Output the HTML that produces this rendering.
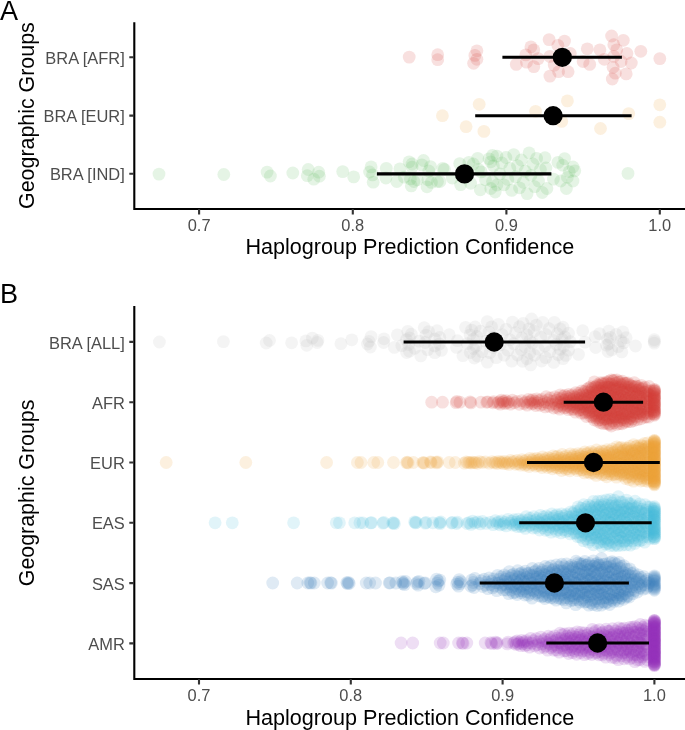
<!DOCTYPE html>
<html><head><meta charset="utf-8">
<style>
html,body{margin:0;padding:0;background:#fff;overflow:hidden;}
svg{display:block;will-change:transform;}
text{font-family:"Liberation Sans",sans-serif;}
.tl{fill:#4d4d4d;font-size:16.45px;}
.tt{fill:#000;font-size:21.6px;}
.pl{fill:#000;font-size:27.1px;}
</style></head>
<body>
<svg width="685" height="730" viewBox="0 0 685 730">
<rect width="685" height="730" fill="#fff"/>
<g fill="#D43F3A" fill-opacity="0.16"><circle cx="409.2" cy="57.1" r="6.4"/><circle cx="437.7" cy="54.7" r="6.4"/><circle cx="437.7" cy="59.7" r="6.4"/><circle cx="476.9" cy="50.8" r="6.4"/><circle cx="474.9" cy="55.4" r="6.4"/><circle cx="476.9" cy="59.3" r="6.4"/><circle cx="473.6" cy="63.3" r="6.4"/><circle cx="516.3" cy="64.4" r="6.4"/><circle cx="525.8" cy="54.9" r="6.4"/><circle cx="526.5" cy="62.2" r="6.4"/><circle cx="530.9" cy="46.9" r="6.4"/><circle cx="533.8" cy="49.8" r="6.4"/><circle cx="533.8" cy="66.6" r="6.4"/><circle cx="538.2" cy="58.6" r="6.4"/><circle cx="549.1" cy="39.6" r="6.4"/><circle cx="564.5" cy="41.1" r="6.4"/><circle cx="557.9" cy="45.4" r="6.4"/><circle cx="549.9" cy="56.4" r="6.4"/><circle cx="570.3" cy="53.5" r="6.4"/><circle cx="554.2" cy="65.1" r="6.4"/><circle cx="558.6" cy="71.7" r="6.4"/><circle cx="568.1" cy="71.7" r="6.4"/><circle cx="549.9" cy="76.1" r="6.4"/><circle cx="587.3" cy="48.8" r="6.4"/><circle cx="599.9" cy="49.8" r="6.4"/><circle cx="583.1" cy="61.5" r="6.4"/><circle cx="589.7" cy="64.4" r="6.4"/><circle cx="604.3" cy="59.3" r="6.4"/><circle cx="611.6" cy="36.0" r="6.4"/><circle cx="623.3" cy="40.3" r="6.4"/><circle cx="613.8" cy="44.7" r="6.4"/><circle cx="616.7" cy="49.8" r="6.4"/><circle cx="613.8" cy="56.4" r="6.4"/><circle cx="626.9" cy="53.5" r="6.4"/><circle cx="631.3" cy="63.0" r="6.4"/><circle cx="621.1" cy="61.5" r="6.4"/><circle cx="613.1" cy="67.3" r="6.4"/><circle cx="615.3" cy="73.2" r="6.4"/><circle cx="626.2" cy="73.9" r="6.4"/><circle cx="612.3" cy="79.0" r="6.4"/><circle cx="640.8" cy="51.3" r="6.4"/><circle cx="659.8" cy="58.6" r="6.4"/></g>
<g fill="#EEA236" fill-opacity="0.16"><circle cx="442.4" cy="115.7" r="6.4"/><circle cx="479.2" cy="104.3" r="6.4"/><circle cx="466.1" cy="126.7" r="6.4"/><circle cx="483.9" cy="131.4" r="6.4"/><circle cx="535.6" cy="111.3" r="6.4"/><circle cx="567.4" cy="100.9" r="6.4"/><circle cx="561.7" cy="121.4" r="6.4"/><circle cx="600.5" cy="128.5" r="6.4"/><circle cx="628.7" cy="113.6" r="6.4"/><circle cx="659.8" cy="104.8" r="6.4"/><circle cx="659.8" cy="122.2" r="6.4"/></g>
<g fill="#5CB85C" fill-opacity="0.16"><circle cx="159.0" cy="174.1" r="6.4"/><circle cx="223.8" cy="174.5" r="6.4"/><circle cx="267.1" cy="172.1" r="6.4"/><circle cx="270.4" cy="176.0" r="6.4"/><circle cx="292.8" cy="173.0" r="6.4"/><circle cx="308.2" cy="169.5" r="6.4"/><circle cx="307.3" cy="175.7" r="6.4"/><circle cx="313.8" cy="179.2" r="6.4"/><circle cx="318.7" cy="172.2" r="6.4"/><circle cx="319.4" cy="176.2" r="6.4"/><circle cx="342.7" cy="171.6" r="6.4"/><circle cx="353.7" cy="176.9" r="6.4"/><circle cx="371.1" cy="166.9" r="6.4"/><circle cx="369.6" cy="172.0" r="6.4"/><circle cx="372.5" cy="174.9" r="6.4"/><circle cx="373.2" cy="182.2" r="6.4"/><circle cx="386.3" cy="168.4" r="6.4"/><circle cx="385.9" cy="178.0" r="6.4"/><circle cx="399.9" cy="168.8" r="6.4"/><circle cx="396.8" cy="181.5" r="6.4"/><circle cx="409.1" cy="161.8" r="6.4"/><circle cx="412.1" cy="164.0" r="6.4"/><circle cx="412.1" cy="167.1" r="6.4"/><circle cx="423.5" cy="160.5" r="6.4"/><circle cx="421.8" cy="164.9" r="6.4"/><circle cx="430.5" cy="166.6" r="6.4"/><circle cx="428.8" cy="171.0" r="6.4"/><circle cx="404.3" cy="177.2" r="6.4"/><circle cx="410.4" cy="178.9" r="6.4"/><circle cx="413.9" cy="181.5" r="6.4"/><circle cx="411.3" cy="185.9" r="6.4"/><circle cx="417.4" cy="179.8" r="6.4"/><circle cx="427.9" cy="179.8" r="6.4"/><circle cx="427.0" cy="186.8" r="6.4"/><circle cx="437.5" cy="181.5" r="6.4"/><circle cx="442.8" cy="168.4" r="6.4"/><circle cx="431.4" cy="182.4" r="6.4"/><circle cx="444.4" cy="169.3" r="6.4"/><circle cx="440.0" cy="181.5" r="6.4"/><circle cx="459.7" cy="163.6" r="6.4"/><circle cx="452.3" cy="178.0" r="6.4"/><circle cx="460.6" cy="184.6" r="6.4"/><circle cx="468.9" cy="162.3" r="6.4"/><circle cx="477.7" cy="158.3" r="6.4"/><circle cx="473.3" cy="164.0" r="6.4"/><circle cx="470.6" cy="183.3" r="6.4"/><circle cx="478.5" cy="169.3" r="6.4"/><circle cx="480.3" cy="189.8" r="6.4"/><circle cx="481.2" cy="171.9" r="6.4"/><circle cx="492.5" cy="155.3" r="6.4"/><circle cx="490.8" cy="161.8" r="6.4"/><circle cx="489.0" cy="158.8" r="6.4"/><circle cx="493.4" cy="165.8" r="6.4"/><circle cx="496.9" cy="156.1" r="6.4"/><circle cx="485.5" cy="179.8" r="6.4"/><circle cx="492.5" cy="181.5" r="6.4"/><circle cx="490.8" cy="188.5" r="6.4"/><circle cx="495.2" cy="192.0" r="6.4"/><circle cx="496.9" cy="185.0" r="6.4"/><circle cx="545.0" cy="157.7" r="6.4"/><circle cx="545.9" cy="168.0" r="6.4"/><circle cx="546.9" cy="188.5" r="6.4"/><circle cx="558.0" cy="162.4" r="6.4"/><circle cx="564.6" cy="158.6" r="6.4"/><circle cx="562.7" cy="165.2" r="6.4"/><circle cx="573.0" cy="167.0" r="6.4"/><circle cx="574.8" cy="170.8" r="6.4"/><circle cx="569.2" cy="171.7" r="6.4"/><circle cx="560.8" cy="181.0" r="6.4"/><circle cx="567.4" cy="177.3" r="6.4"/><circle cx="573.0" cy="181.0" r="6.4"/><circle cx="566.4" cy="188.5" r="6.4"/><circle cx="553.4" cy="179.1" r="6.4"/><circle cx="628.0" cy="173.4" r="6.4"/><circle cx="499.9" cy="173.9" r="6.4"/><circle cx="501.9" cy="163.0" r="6.4"/><circle cx="503.9" cy="184.8" r="6.4"/><circle cx="505.9" cy="157.5" r="6.4"/><circle cx="507.8" cy="179.4" r="6.4"/><circle cx="509.8" cy="168.4" r="6.4"/><circle cx="511.7" cy="190.4" r="6.4"/><circle cx="513.7" cy="154.6" r="6.4"/><circle cx="515.6" cy="176.7" r="6.4"/><circle cx="517.5" cy="165.6" r="6.4"/><circle cx="519.5" cy="187.8" r="6.4"/><circle cx="521.4" cy="160.0" r="6.4"/><circle cx="523.3" cy="182.3" r="6.4"/><circle cx="525.2" cy="171.1" r="6.4"/><circle cx="527.1" cy="193.6" r="6.4"/><circle cx="529.1" cy="152.8" r="6.4"/><circle cx="531.0" cy="175.3" r="6.4"/><circle cx="532.9" cy="164.0" r="6.4"/><circle cx="534.7" cy="186.7" r="6.4"/><circle cx="536.6" cy="158.3" r="6.4"/><circle cx="538.5" cy="181.0" r="6.4"/><circle cx="540.4" cy="169.6" r="6.4"/><circle cx="542.3" cy="192.5" r="6.4"/></g>
<g fill="#B8B8B8" fill-opacity="0.16"><circle cx="159.4" cy="342.0" r="6.4"/><circle cx="223.4" cy="341.6" r="6.4"/><circle cx="266.2" cy="343.0" r="6.4"/><circle cx="269.5" cy="340.5" r="6.4"/><circle cx="291.6" cy="342.8" r="6.4"/><circle cx="305.9" cy="340.9" r="6.4"/><circle cx="306.8" cy="345.3" r="6.4"/><circle cx="312.4" cy="338.1" r="6.4"/><circle cx="317.2" cy="342.5" r="6.4"/><circle cx="317.9" cy="340.4" r="6.4"/><circle cx="340.9" cy="343.7" r="6.4"/><circle cx="351.8" cy="339.8" r="6.4"/><circle cx="367.5" cy="344.0" r="6.4"/><circle cx="369.0" cy="341.3" r="6.4"/><circle cx="370.4" cy="347.0" r="6.4"/><circle cx="371.1" cy="336.6" r="6.4"/><circle cx="383.6" cy="342.5" r="6.4"/><circle cx="384.0" cy="338.8" r="6.4"/><circle cx="394.4" cy="347.4" r="6.4"/><circle cx="397.4" cy="334.9" r="6.4"/><circle cx="401.8" cy="345.6" r="6.4"/><circle cx="406.5" cy="339.6" r="6.4"/><circle cx="406.6" cy="352.5" r="6.4"/><circle cx="407.8" cy="331.3" r="6.4"/><circle cx="408.7" cy="344.5" r="6.4"/><circle cx="409.5" cy="337.8" r="6.4"/><circle cx="409.5" cy="351.3" r="6.4"/><circle cx="411.3" cy="334.2" r="6.4"/><circle cx="414.7" cy="348.3" r="6.4"/><circle cx="419.1" cy="341.1" r="6.4"/><circle cx="420.8" cy="355.9" r="6.4"/><circle cx="424.2" cy="327.7" r="6.4"/><circle cx="425.1" cy="342.5" r="6.4"/><circle cx="426.0" cy="335.1" r="6.4"/><circle cx="427.7" cy="349.7" r="6.4"/><circle cx="428.6" cy="331.6" r="6.4"/><circle cx="434.6" cy="345.9" r="6.4"/><circle cx="434.8" cy="339.0" r="6.4"/><circle cx="434.8" cy="352.7" r="6.4"/><circle cx="437.1" cy="330.7" r="6.4"/><circle cx="439.4" cy="344.0" r="6.4"/><circle cx="439.8" cy="337.5" r="6.4"/><circle cx="441.4" cy="350.4" r="6.4"/><circle cx="449.2" cy="334.7" r="6.4"/><circle cx="456.5" cy="347.4" r="6.4"/><circle cx="457.4" cy="340.7" r="6.4"/><circle cx="462.9" cy="355.7" r="6.4"/><circle cx="465.6" cy="327.4" r="6.4"/><circle cx="467.3" cy="343.6" r="6.4"/><circle cx="470.0" cy="334.8" r="6.4"/><circle cx="470.3" cy="352.5" r="6.4"/><circle cx="471.6" cy="330.1" r="6.4"/><circle cx="473.5" cy="348.5" r="6.4"/><circle cx="473.5" cy="339.1" r="6.4"/><circle cx="474.3" cy="358.0" r="6.4"/><circle cx="475.1" cy="327.0" r="6.4"/><circle cx="475.8" cy="346.2" r="6.4"/><circle cx="476.9" cy="336.5" r="6.4"/><circle cx="477.8" cy="356.2" r="6.4"/><circle cx="480.5" cy="331.2" r="6.4"/><circle cx="482.0" cy="351.6" r="6.4"/><circle cx="485.5" cy="341.4" r="6.4"/><circle cx="487.3" cy="362.1" r="6.4"/><circle cx="487.3" cy="321.6" r="6.4"/><circle cx="489.0" cy="342.3" r="6.4"/><circle cx="489.0" cy="332.0" r="6.4"/><circle cx="489.9" cy="352.7" r="6.4"/><circle cx="491.6" cy="326.8" r="6.4"/><circle cx="493.3" cy="347.5" r="6.4"/><circle cx="493.3" cy="337.2" r="6.4"/><circle cx="496.3" cy="357.7" r="6.4"/><circle cx="498.3" cy="324.4" r="6.4"/><circle cx="500.2" cy="344.9" r="6.4"/><circle cx="502.2" cy="334.6" r="6.4"/><circle cx="504.1" cy="355.2" r="6.4"/><circle cx="506.1" cy="329.3" r="6.4"/><circle cx="507.9" cy="350.2" r="6.4"/><circle cx="509.9" cy="339.7" r="6.4"/><circle cx="511.8" cy="361.2" r="6.4"/><circle cx="512.5" cy="322.1" r="6.4"/><circle cx="513.7" cy="343.7" r="6.4"/><circle cx="515.6" cy="332.7" r="6.4"/><circle cx="517.5" cy="355.0" r="6.4"/><circle cx="519.4" cy="326.7" r="6.4"/><circle cx="521.3" cy="349.6" r="6.4"/><circle cx="521.9" cy="338.0" r="6.4"/><circle cx="522.6" cy="361.3" r="6.4"/><circle cx="523.2" cy="323.4" r="6.4"/><circle cx="525.1" cy="346.8" r="6.4"/><circle cx="526.9" cy="334.9" r="6.4"/><circle cx="527.0" cy="358.8" r="6.4"/><circle cx="528.9" cy="328.9" r="6.4"/><circle cx="529.8" cy="352.9" r="6.4"/><circle cx="529.8" cy="340.9" r="6.4"/><circle cx="530.7" cy="364.9" r="6.4"/><circle cx="531.6" cy="319.0" r="6.4"/><circle cx="532.5" cy="343.1" r="6.4"/><circle cx="534.1" cy="331.1" r="6.4"/><circle cx="534.4" cy="355.2" r="6.4"/><circle cx="536.3" cy="325.1" r="6.4"/><circle cx="538.2" cy="349.1" r="6.4"/><circle cx="540.8" cy="337.2" r="6.4"/><circle cx="541.7" cy="361.0" r="6.4"/><circle cx="542.7" cy="322.4" r="6.4"/><circle cx="544.9" cy="346.0" r="6.4"/><circle cx="545.7" cy="334.3" r="6.4"/><circle cx="545.7" cy="357.7" r="6.4"/><circle cx="549.1" cy="328.7" r="6.4"/><circle cx="549.9" cy="351.6" r="6.4"/><circle cx="553.6" cy="340.3" r="6.4"/><circle cx="553.7" cy="362.4" r="6.4"/><circle cx="554.3" cy="322.4" r="6.4"/><circle cx="556.5" cy="344.4" r="6.4"/><circle cx="557.4" cy="333.7" r="6.4"/><circle cx="558.3" cy="354.8" r="6.4"/><circle cx="560.1" cy="328.9" r="6.4"/><circle cx="560.2" cy="349.3" r="6.4"/><circle cx="562.0" cy="339.2" r="6.4"/><circle cx="563.0" cy="358.6" r="6.4"/><circle cx="563.0" cy="327.2" r="6.4"/><circle cx="563.7" cy="346.5" r="6.4"/><circle cx="564.8" cy="337.0" r="6.4"/><circle cx="565.8" cy="355.4" r="6.4"/><circle cx="568.5" cy="333.2" r="6.4"/><circle cx="568.5" cy="350.2" r="6.4"/><circle cx="570.3" cy="341.7" r="6.4"/><circle cx="578.5" cy="354.4" r="6.4"/><circle cx="582.7" cy="330.7" r="6.4"/><circle cx="585.0" cy="342.1" r="6.4"/><circle cx="595.1" cy="336.7" r="6.4"/><circle cx="595.7" cy="347.5" r="6.4"/><circle cx="599.5" cy="333.6" r="6.4"/><circle cx="606.7" cy="345.2" r="6.4"/><circle cx="607.4" cy="339.0" r="6.4"/><circle cx="608.1" cy="351.5" r="6.4"/><circle cx="608.8" cy="331.1" r="6.4"/><circle cx="608.8" cy="343.7" r="6.4"/><circle cx="610.3" cy="337.4" r="6.4"/><circle cx="611.7" cy="350.0" r="6.4"/><circle cx="616.1" cy="334.4" r="6.4"/><circle cx="618.2" cy="346.6" r="6.4"/><circle cx="621.1" cy="340.7" r="6.4"/><circle cx="621.8" cy="351.9" r="6.4"/><circle cx="622.9" cy="331.8" r="6.4"/><circle cx="623.6" cy="342.8" r="6.4"/><circle cx="626.1" cy="337.7" r="6.4"/><circle cx="635.5" cy="346.0" r="6.4"/><circle cx="654.3" cy="339.6" r="6.4"/><circle cx="654.3" cy="343.1" r="6.4"/><circle cx="654.3" cy="341.4" r="6.4"/></g>
<g fill="#D43F3A" fill-opacity="0.16"><circle cx="431.7" cy="402.2" r="6.4"/><circle cx="442.5" cy="402.2" r="6.4"/><circle cx="456.1" cy="402.7" r="6.4"/><circle cx="456.9" cy="401.4" r="6.4"/><circle cx="460.0" cy="402.2" r="6.4"/><circle cx="470.1" cy="401.9" r="6.4"/><circle cx="470.9" cy="402.9" r="6.4"/><circle cx="481.0" cy="402.2" r="6.4"/><circle cx="486.8" cy="402.3" r="6.4"/><circle cx="487.6" cy="401.8" r="6.4"/><circle cx="492.9" cy="402.8" r="6.4"/><circle cx="493.7" cy="401.6" r="6.4"/><circle cx="497.8" cy="403.0" r="6.4"/><circle cx="499.1" cy="401.9" r="6.4"/><circle cx="500.2" cy="404.1" r="6.4"/><circle cx="501.4" cy="400.1" r="6.4"/><circle cx="502.5" cy="402.3" r="6.4"/><circle cx="503.6" cy="401.2" r="6.4"/><circle cx="504.8" cy="403.5" r="6.4"/><circle cx="505.9" cy="400.6" r="6.4"/><circle cx="507.2" cy="402.9" r="6.4"/><circle cx="508.7" cy="401.8" r="6.4"/><circle cx="510.4" cy="404.2" r="6.4"/><circle cx="512.3" cy="400.2" r="6.4"/><circle cx="514.4" cy="402.8" r="6.4"/><circle cx="516.8" cy="401.3" r="6.4"/><circle cx="519.3" cy="404.3" r="6.4"/><circle cx="521.7" cy="400.7" r="6.4"/><circle cx="523.9" cy="403.5" r="6.4"/><circle cx="525.6" cy="402.0" r="6.4"/><circle cx="527.1" cy="405.2" r="6.4"/><circle cx="528.4" cy="399.3" r="6.4"/><circle cx="529.6" cy="402.3" r="6.4"/><circle cx="530.7" cy="400.7" r="6.4"/><circle cx="531.7" cy="403.9" r="6.4"/><circle cx="532.7" cy="399.6" r="6.4"/><circle cx="533.7" cy="403.2" r="6.4"/><circle cx="534.8" cy="401.4" r="6.4"/><circle cx="535.8" cy="405.5" r="6.4"/><circle cx="536.8" cy="398.8" r="6.4"/><circle cx="537.8" cy="402.9" r="6.4"/><circle cx="538.9" cy="400.6" r="6.4"/><circle cx="540.2" cy="405.3" r="6.4"/><circle cx="541.6" cy="399.4" r="6.4"/><circle cx="542.9" cy="404.3" r="6.4"/><circle cx="544.1" cy="401.7" r="6.4"/><circle cx="545.2" cy="406.9" r="6.4"/><circle cx="546.2" cy="396.7" r="6.4"/><circle cx="547.2" cy="402.8" r="6.4"/><circle cx="548.2" cy="399.8" r="6.4"/><circle cx="549.2" cy="406.3" r="6.4"/><circle cx="550.3" cy="397.9" r="6.4"/><circle cx="551.4" cy="404.3" r="6.4"/><circle cx="552.5" cy="401.2" r="6.4"/><circle cx="553.7" cy="408.0" r="6.4"/><circle cx="554.7" cy="396.9" r="6.4"/><circle cx="555.5" cy="403.8" r="6.4"/><circle cx="556.3" cy="400.2" r="6.4"/><circle cx="557.1" cy="407.4" r="6.4"/><circle cx="557.8" cy="398.1" r="6.4"/><circle cx="558.4" cy="405.5" r="6.4"/><circle cx="559.0" cy="402.0" r="6.4"/><circle cx="559.7" cy="409.1" r="6.4"/><circle cx="560.3" cy="394.9" r="6.4"/><circle cx="560.9" cy="402.3" r="6.4"/><circle cx="561.4" cy="398.7" r="6.4"/><circle cx="562.0" cy="406.1" r="6.4"/><circle cx="562.6" cy="396.4" r="6.4"/><circle cx="563.1" cy="404.4" r="6.4"/><circle cx="563.7" cy="400.5" r="6.4"/><circle cx="564.2" cy="407.9" r="6.4"/><circle cx="564.7" cy="395.3" r="6.4"/><circle cx="565.3" cy="403.2" r="6.4"/><circle cx="565.8" cy="399.4" r="6.4"/><circle cx="566.3" cy="407.3" r="6.4"/><circle cx="566.8" cy="396.9" r="6.4"/><circle cx="567.3" cy="405.5" r="6.4"/><circle cx="567.8" cy="401.3" r="6.4"/><circle cx="568.3" cy="409.6" r="6.4"/><circle cx="568.8" cy="394.4" r="6.4"/><circle cx="569.2" cy="402.9" r="6.4"/><circle cx="569.7" cy="398.6" r="6.4"/><circle cx="570.2" cy="407.2" r="6.4"/><circle cx="570.6" cy="396.1" r="6.4"/><circle cx="571.1" cy="405.1" r="6.4"/><circle cx="571.5" cy="400.6" r="6.4"/><circle cx="572.0" cy="409.4" r="6.4"/><circle cx="572.4" cy="394.8" r="6.4"/><circle cx="572.8" cy="404.1" r="6.4"/><circle cx="573.3" cy="399.2" r="6.4"/><circle cx="573.7" cy="409.2" r="6.4"/><circle cx="574.1" cy="396.9" r="6.4"/><circle cx="574.5" cy="406.8" r="6.4"/><circle cx="575.0" cy="401.7" r="6.4"/><circle cx="575.4" cy="412.2" r="6.4"/><circle cx="575.8" cy="392.6" r="6.4"/><circle cx="576.2" cy="402.7" r="6.4"/><circle cx="576.6" cy="397.9" r="6.4"/><circle cx="577.0" cy="407.9" r="6.4"/><circle cx="577.4" cy="395.5" r="6.4"/><circle cx="577.8" cy="405.0" r="6.4"/><circle cx="578.2" cy="400.1" r="6.4"/><circle cx="578.5" cy="410.4" r="6.4"/><circle cx="578.9" cy="393.1" r="6.4"/><circle cx="579.3" cy="404.3" r="6.4"/><circle cx="579.7" cy="398.7" r="6.4"/><circle cx="580.0" cy="409.6" r="6.4"/><circle cx="580.4" cy="395.4" r="6.4"/><circle cx="580.7" cy="407.3" r="6.4"/><circle cx="581.1" cy="401.3" r="6.4"/><circle cx="581.4" cy="413.2" r="6.4"/><circle cx="581.7" cy="391.0" r="6.4"/><circle cx="582.1" cy="403.6" r="6.4"/><circle cx="582.4" cy="397.6" r="6.4"/><circle cx="582.7" cy="409.9" r="6.4"/><circle cx="583.0" cy="394.0" r="6.4"/><circle cx="583.4" cy="406.6" r="6.4"/><circle cx="583.7" cy="400.3" r="6.4"/><circle cx="584.0" cy="413.1" r="6.4"/><circle cx="584.3" cy="391.5" r="6.4"/><circle cx="584.6" cy="405.4" r="6.4"/><circle cx="584.9" cy="398.6" r="6.4"/><circle cx="585.2" cy="412.0" r="6.4"/><circle cx="585.5" cy="395.1" r="6.4"/><circle cx="585.8" cy="408.3" r="6.4"/><circle cx="586.1" cy="402.0" r="6.4"/><circle cx="586.4" cy="416.5" r="6.4"/><circle cx="586.6" cy="389.5" r="6.4"/><circle cx="586.9" cy="402.3" r="6.4"/><circle cx="587.2" cy="395.6" r="6.4"/><circle cx="587.5" cy="410.0" r="6.4"/><circle cx="587.8" cy="391.6" r="6.4"/><circle cx="588.0" cy="406.2" r="6.4"/><circle cx="588.3" cy="398.5" r="6.4"/><circle cx="588.6" cy="412.9" r="6.4"/><circle cx="588.8" cy="388.0" r="6.4"/><circle cx="589.1" cy="404.4" r="6.4"/><circle cx="589.4" cy="396.5" r="6.4"/><circle cx="589.6" cy="412.0" r="6.4"/><circle cx="589.9" cy="392.5" r="6.4"/><circle cx="590.1" cy="408.0" r="6.4"/><circle cx="590.4" cy="400.2" r="6.4"/><circle cx="590.6" cy="416.3" r="6.4"/><circle cx="590.9" cy="386.7" r="6.4"/><circle cx="591.1" cy="403.3" r="6.4"/><circle cx="591.4" cy="395.0" r="6.4"/><circle cx="591.6" cy="411.5" r="6.4"/><circle cx="591.8" cy="389.5" r="6.4"/><circle cx="592.1" cy="407.9" r="6.4"/><circle cx="592.3" cy="398.8" r="6.4"/><circle cx="592.5" cy="417.1" r="6.4"/><circle cx="592.7" cy="388.0" r="6.4"/><circle cx="593.0" cy="405.8" r="6.4"/><circle cx="593.2" cy="396.7" r="6.4"/><circle cx="593.4" cy="415.3" r="6.4"/><circle cx="593.6" cy="391.9" r="6.4"/><circle cx="593.8" cy="410.6" r="6.4"/><circle cx="594.0" cy="401.2" r="6.4"/><circle cx="594.2" cy="419.9" r="6.4"/><circle cx="594.4" cy="381.8" r="6.4"/><circle cx="594.6" cy="402.9" r="6.4"/><circle cx="594.8" cy="393.5" r="6.4"/><circle cx="595.0" cy="413.2" r="6.4"/><circle cx="595.2" cy="386.9" r="6.4"/><circle cx="595.4" cy="407.6" r="6.4"/><circle cx="595.6" cy="398.0" r="6.4"/><circle cx="595.8" cy="417.7" r="6.4"/><circle cx="596.0" cy="386.7" r="6.4"/><circle cx="596.2" cy="405.7" r="6.4"/><circle cx="596.4" cy="395.3" r="6.4"/><circle cx="596.6" cy="415.9" r="6.4"/><circle cx="596.8" cy="390.6" r="6.4"/><circle cx="597.0" cy="410.9" r="6.4"/><circle cx="597.2" cy="400.5" r="6.4"/><circle cx="597.4" cy="421.0" r="6.4"/><circle cx="597.6" cy="384.6" r="6.4"/><circle cx="597.8" cy="404.2" r="6.4"/><circle cx="597.9" cy="393.3" r="6.4"/><circle cx="598.1" cy="414.5" r="6.4"/><circle cx="598.3" cy="388.4" r="6.4"/><circle cx="598.5" cy="409.6" r="6.4"/><circle cx="598.7" cy="399.1" r="6.4"/><circle cx="598.9" cy="419.7" r="6.4"/><circle cx="599.1" cy="385.3" r="6.4"/><circle cx="599.3" cy="406.9" r="6.4"/><circle cx="599.5" cy="396.4" r="6.4"/><circle cx="599.6" cy="417.7" r="6.4"/><circle cx="599.8" cy="390.4" r="6.4"/><circle cx="600.0" cy="412.8" r="6.4"/><circle cx="600.2" cy="401.7" r="6.4"/><circle cx="600.4" cy="422.6" r="6.4"/><circle cx="600.6" cy="382.6" r="6.4"/><circle cx="600.7" cy="402.7" r="6.4"/><circle cx="600.9" cy="391.4" r="6.4"/><circle cx="601.1" cy="413.5" r="6.4"/><circle cx="601.3" cy="385.9" r="6.4"/><circle cx="601.5" cy="408.4" r="6.4"/><circle cx="601.7" cy="397.0" r="6.4"/><circle cx="601.8" cy="419.9" r="6.4"/><circle cx="602.0" cy="383.9" r="6.4"/><circle cx="602.2" cy="405.7" r="6.4"/><circle cx="602.4" cy="394.9" r="6.4"/><circle cx="602.5" cy="417.1" r="6.4"/><circle cx="602.7" cy="388.5" r="6.4"/><circle cx="602.9" cy="411.4" r="6.4"/><circle cx="603.1" cy="399.7" r="6.4"/><circle cx="603.3" cy="423.7" r="6.4"/><circle cx="603.4" cy="382.9" r="6.4"/><circle cx="603.6" cy="404.0" r="6.4"/><circle cx="603.8" cy="392.5" r="6.4"/><circle cx="604.0" cy="414.7" r="6.4"/><circle cx="604.1" cy="387.3" r="6.4"/><circle cx="604.3" cy="410.1" r="6.4"/><circle cx="604.5" cy="398.8" r="6.4"/><circle cx="604.7" cy="419.2" r="6.4"/><circle cx="604.8" cy="384.0" r="6.4"/><circle cx="605.0" cy="407.0" r="6.4"/><circle cx="605.2" cy="395.7" r="6.4"/><circle cx="605.4" cy="418.5" r="6.4"/><circle cx="605.5" cy="390.4" r="6.4"/><circle cx="605.7" cy="412.0" r="6.4"/><circle cx="605.9" cy="401.3" r="6.4"/><circle cx="606.0" cy="423.3" r="6.4"/><circle cx="606.2" cy="382.2" r="6.4"/><circle cx="606.4" cy="403.5" r="6.4"/><circle cx="606.5" cy="391.9" r="6.4"/><circle cx="606.7" cy="415.3" r="6.4"/><circle cx="606.9" cy="386.8" r="6.4"/><circle cx="607.1" cy="409.1" r="6.4"/><circle cx="607.2" cy="397.9" r="6.4"/><circle cx="607.4" cy="420.2" r="6.4"/><circle cx="607.6" cy="382.8" r="6.4"/><circle cx="607.7" cy="406.3" r="6.4"/><circle cx="607.9" cy="394.5" r="6.4"/><circle cx="608.1" cy="418.5" r="6.4"/><circle cx="608.2" cy="387.4" r="6.4"/><circle cx="608.4" cy="411.7" r="6.4"/><circle cx="608.5" cy="400.5" r="6.4"/><circle cx="608.7" cy="424.2" r="6.4"/><circle cx="608.9" cy="381.2" r="6.4"/><circle cx="609.0" cy="404.8" r="6.4"/><circle cx="609.2" cy="393.3" r="6.4"/><circle cx="609.4" cy="417.5" r="6.4"/><circle cx="609.5" cy="387.1" r="6.4"/><circle cx="609.7" cy="411.1" r="6.4"/><circle cx="609.9" cy="399.0" r="6.4"/><circle cx="610.0" cy="424.3" r="6.4"/><circle cx="610.2" cy="384.0" r="6.4"/><circle cx="610.3" cy="407.4" r="6.4"/><circle cx="610.5" cy="396.2" r="6.4"/><circle cx="610.7" cy="418.3" r="6.4"/><circle cx="610.8" cy="392.0" r="6.4"/><circle cx="611.0" cy="413.7" r="6.4"/><circle cx="611.2" cy="402.0" r="6.4"/><circle cx="611.3" cy="426.0" r="6.4"/><circle cx="611.5" cy="379.8" r="6.4"/><circle cx="611.7" cy="402.3" r="6.4"/><circle cx="611.8" cy="389.7" r="6.4"/><circle cx="612.0" cy="414.3" r="6.4"/><circle cx="612.1" cy="384.4" r="6.4"/><circle cx="612.3" cy="408.2" r="6.4"/><circle cx="612.5" cy="396.3" r="6.4"/><circle cx="612.6" cy="420.8" r="6.4"/><circle cx="612.8" cy="381.0" r="6.4"/><circle cx="613.0" cy="405.3" r="6.4"/><circle cx="613.1" cy="393.9" r="6.4"/><circle cx="613.3" cy="417.5" r="6.4"/><circle cx="613.5" cy="388.0" r="6.4"/><circle cx="613.6" cy="411.6" r="6.4"/><circle cx="613.8" cy="399.5" r="6.4"/><circle cx="614.0" cy="422.8" r="6.4"/><circle cx="614.1" cy="380.2" r="6.4"/><circle cx="614.3" cy="403.7" r="6.4"/><circle cx="614.5" cy="391.1" r="6.4"/><circle cx="614.6" cy="416.5" r="6.4"/><circle cx="614.8" cy="386.5" r="6.4"/><circle cx="615.0" cy="409.9" r="6.4"/><circle cx="615.1" cy="397.8" r="6.4"/><circle cx="615.3" cy="418.8" r="6.4"/><circle cx="615.5" cy="383.1" r="6.4"/><circle cx="615.6" cy="406.7" r="6.4"/><circle cx="615.8" cy="395.0" r="6.4"/><circle cx="616.0" cy="417.4" r="6.4"/><circle cx="616.1" cy="389.4" r="6.4"/><circle cx="616.3" cy="412.4" r="6.4"/><circle cx="616.5" cy="400.8" r="6.4"/><circle cx="616.6" cy="424.4" r="6.4"/><circle cx="616.8" cy="379.8" r="6.4"/><circle cx="617.0" cy="403.1" r="6.4"/><circle cx="617.1" cy="391.7" r="6.4"/><circle cx="617.3" cy="414.3" r="6.4"/><circle cx="617.5" cy="387.2" r="6.4"/><circle cx="617.7" cy="409.3" r="6.4"/><circle cx="617.8" cy="397.0" r="6.4"/><circle cx="618.0" cy="421.1" r="6.4"/><circle cx="618.2" cy="382.2" r="6.4"/><circle cx="618.3" cy="405.9" r="6.4"/><circle cx="618.5" cy="394.3" r="6.4"/><circle cx="618.7" cy="417.2" r="6.4"/><circle cx="618.9" cy="388.8" r="6.4"/><circle cx="619.0" cy="411.6" r="6.4"/><circle cx="619.2" cy="400.0" r="6.4"/><circle cx="619.4" cy="423.6" r="6.4"/><circle cx="619.5" cy="381.7" r="6.4"/><circle cx="619.7" cy="404.4" r="6.4"/><circle cx="619.9" cy="393.3" r="6.4"/><circle cx="620.1" cy="416.9" r="6.4"/><circle cx="620.2" cy="387.0" r="6.4"/><circle cx="620.4" cy="410.1" r="6.4"/><circle cx="620.6" cy="398.8" r="6.4"/><circle cx="620.7" cy="420.4" r="6.4"/><circle cx="620.9" cy="384.7" r="6.4"/><circle cx="621.1" cy="407.5" r="6.4"/><circle cx="621.3" cy="396.1" r="6.4"/><circle cx="621.4" cy="418.3" r="6.4"/><circle cx="621.6" cy="390.4" r="6.4"/><circle cx="621.8" cy="412.9" r="6.4"/><circle cx="622.0" cy="401.6" r="6.4"/><circle cx="622.1" cy="423.8" r="6.4"/><circle cx="622.3" cy="381.1" r="6.4"/><circle cx="622.5" cy="402.7" r="6.4"/><circle cx="622.7" cy="391.8" r="6.4"/><circle cx="622.8" cy="414.2" r="6.4"/><circle cx="623.0" cy="384.6" r="6.4"/><circle cx="623.2" cy="408.1" r="6.4"/><circle cx="623.4" cy="397.2" r="6.4"/><circle cx="623.6" cy="419.5" r="6.4"/><circle cx="623.7" cy="383.1" r="6.4"/><circle cx="623.9" cy="405.3" r="6.4"/><circle cx="624.1" cy="394.1" r="6.4"/><circle cx="624.3" cy="417.9" r="6.4"/><circle cx="624.4" cy="388.9" r="6.4"/><circle cx="624.6" cy="410.9" r="6.4"/><circle cx="624.8" cy="400.0" r="6.4"/><circle cx="625.0" cy="422.3" r="6.4"/><circle cx="625.2" cy="383.2" r="6.4"/><circle cx="625.3" cy="403.9" r="6.4"/><circle cx="625.5" cy="392.4" r="6.4"/><circle cx="625.7" cy="414.4" r="6.4"/><circle cx="625.9" cy="386.8" r="6.4"/><circle cx="626.0" cy="410.0" r="6.4"/><circle cx="626.2" cy="398.5" r="6.4"/><circle cx="626.4" cy="420.8" r="6.4"/><circle cx="626.6" cy="383.3" r="6.4"/><circle cx="626.8" cy="406.6" r="6.4"/><circle cx="627.0" cy="396.1" r="6.4"/><circle cx="627.1" cy="416.4" r="6.4"/><circle cx="627.3" cy="390.5" r="6.4"/><circle cx="627.5" cy="412.7" r="6.4"/><circle cx="627.7" cy="401.2" r="6.4"/><circle cx="627.9" cy="421.6" r="6.4"/><circle cx="628.1" cy="382.9" r="6.4"/><circle cx="628.3" cy="403.3" r="6.4"/><circle cx="628.4" cy="392.5" r="6.4"/><circle cx="628.6" cy="413.7" r="6.4"/><circle cx="628.8" cy="387.3" r="6.4"/><circle cx="629.0" cy="408.6" r="6.4"/><circle cx="629.2" cy="398.1" r="6.4"/><circle cx="629.4" cy="418.9" r="6.4"/><circle cx="629.6" cy="384.8" r="6.4"/><circle cx="629.8" cy="405.8" r="6.4"/><circle cx="630.0" cy="395.3" r="6.4"/><circle cx="630.1" cy="417.5" r="6.4"/><circle cx="630.3" cy="390.0" r="6.4"/><circle cx="630.5" cy="411.0" r="6.4"/><circle cx="630.7" cy="400.8" r="6.4"/><circle cx="630.9" cy="421.6" r="6.4"/><circle cx="631.1" cy="385.8" r="6.4"/><circle cx="631.3" cy="404.4" r="6.4"/><circle cx="631.5" cy="394.0" r="6.4"/><circle cx="631.7" cy="415.1" r="6.4"/><circle cx="631.9" cy="389.4" r="6.4"/><circle cx="632.1" cy="408.9" r="6.4"/><circle cx="632.3" cy="399.5" r="6.4"/><circle cx="632.5" cy="419.0" r="6.4"/><circle cx="632.7" cy="386.4" r="6.4"/><circle cx="632.9" cy="407.5" r="6.4"/><circle cx="633.1" cy="396.9" r="6.4"/><circle cx="633.3" cy="416.3" r="6.4"/><circle cx="633.5" cy="392.6" r="6.4"/><circle cx="633.7" cy="411.8" r="6.4"/><circle cx="633.9" cy="402.0" r="6.4"/><circle cx="634.1" cy="420.5" r="6.4"/><circle cx="634.3" cy="382.7" r="6.4"/><circle cx="634.5" cy="402.4" r="6.4"/><circle cx="634.7" cy="392.1" r="6.4"/><circle cx="634.9" cy="412.7" r="6.4"/><circle cx="635.1" cy="387.1" r="6.4"/><circle cx="635.3" cy="407.1" r="6.4"/><circle cx="635.5" cy="397.5" r="6.4"/><circle cx="635.7" cy="416.8" r="6.4"/><circle cx="636.0" cy="386.0" r="6.4"/><circle cx="636.2" cy="404.8" r="6.4"/><circle cx="636.4" cy="395.7" r="6.4"/><circle cx="636.6" cy="413.4" r="6.4"/><circle cx="636.8" cy="390.1" r="6.4"/><circle cx="637.0" cy="409.4" r="6.4"/><circle cx="637.2" cy="400.0" r="6.4"/><circle cx="637.4" cy="419.7" r="6.4"/><circle cx="637.7" cy="386.4" r="6.4"/><circle cx="637.9" cy="403.5" r="6.4"/><circle cx="638.1" cy="394.2" r="6.4"/><circle cx="638.3" cy="413.1" r="6.4"/><circle cx="638.5" cy="389.9" r="6.4"/><circle cx="638.7" cy="408.5" r="6.4"/><circle cx="639.0" cy="398.9" r="6.4"/><circle cx="639.2" cy="416.4" r="6.4"/><circle cx="639.4" cy="388.3" r="6.4"/><circle cx="639.6" cy="406.0" r="6.4"/><circle cx="639.8" cy="396.6" r="6.4"/><circle cx="640.1" cy="413.6" r="6.4"/><circle cx="640.3" cy="391.6" r="6.4"/><circle cx="640.5" cy="410.5" r="6.4"/><circle cx="640.7" cy="401.2" r="6.4"/><circle cx="641.0" cy="418.8" r="6.4"/><circle cx="641.2" cy="385.4" r="6.4"/><circle cx="641.4" cy="402.9" r="6.4"/><circle cx="641.7" cy="393.1" r="6.4"/><circle cx="641.9" cy="411.7" r="6.4"/><circle cx="642.1" cy="388.8" r="6.4"/><circle cx="642.3" cy="407.2" r="6.4"/><circle cx="642.6" cy="398.6" r="6.4"/><circle cx="642.8" cy="414.8" r="6.4"/><circle cx="643.0" cy="388.0" r="6.4"/><circle cx="643.3" cy="405.2" r="6.4"/><circle cx="643.5" cy="396.8" r="6.4"/><circle cx="643.8" cy="414.3" r="6.4"/><circle cx="644.0" cy="392.1" r="6.4"/><circle cx="644.2" cy="408.9" r="6.4"/><circle cx="644.5" cy="400.8" r="6.4"/><circle cx="644.7" cy="417.3" r="6.4"/><circle cx="645.0" cy="387.2" r="6.4"/><circle cx="645.2" cy="403.9" r="6.4"/><circle cx="645.4" cy="395.9" r="6.4"/><circle cx="645.7" cy="412.1" r="6.4"/><circle cx="645.9" cy="392.1" r="6.4"/><circle cx="646.2" cy="407.7" r="6.4"/><circle cx="646.4" cy="399.8" r="6.4"/><circle cx="646.7" cy="416.8" r="6.4"/><circle cx="646.9" cy="390.7" r="6.4"/><circle cx="647.2" cy="405.9" r="6.4"/><circle cx="647.4" cy="398.0" r="6.4"/><circle cx="647.7" cy="413.3" r="6.4"/><circle cx="647.9" cy="393.6" r="6.4"/><circle cx="648.2" cy="409.6" r="6.4"/><circle cx="648.5" cy="401.9" r="6.4"/><circle cx="648.7" cy="417.1" r="6.4"/><circle cx="649.0" cy="386.5" r="6.4"/><circle cx="649.2" cy="402.6" r="6.4"/><circle cx="649.5" cy="395.0" r="6.4"/><circle cx="649.7" cy="410.8" r="6.4"/><circle cx="650.0" cy="390.9" r="6.4"/><circle cx="650.3" cy="406.7" r="6.4"/><circle cx="650.5" cy="398.7" r="6.4"/><circle cx="650.8" cy="413.7" r="6.4"/><circle cx="654.4" cy="390.7" r="6.4"/><circle cx="654.4" cy="404.3" r="6.4"/><circle cx="654.4" cy="397.5" r="6.4"/><circle cx="654.4" cy="411.1" r="6.4"/><circle cx="654.4" cy="394.1" r="6.4"/><circle cx="654.4" cy="407.7" r="6.4"/><circle cx="654.4" cy="400.9" r="6.4"/><circle cx="654.4" cy="414.5" r="6.4"/><circle cx="654.4" cy="389.8" r="6.4"/><circle cx="654.4" cy="403.4" r="6.4"/><circle cx="654.4" cy="396.6" r="6.4"/><circle cx="654.4" cy="410.2" r="6.4"/><circle cx="654.4" cy="393.2" r="6.4"/><circle cx="654.4" cy="406.8" r="6.4"/><circle cx="654.4" cy="400.0" r="6.4"/><circle cx="654.4" cy="413.6" r="6.4"/><circle cx="654.4" cy="391.5" r="6.4"/><circle cx="654.4" cy="405.1" r="6.4"/><circle cx="654.4" cy="398.3" r="6.4"/><circle cx="654.4" cy="411.9" r="6.4"/><circle cx="654.4" cy="394.9" r="6.4"/><circle cx="654.4" cy="408.5" r="6.4"/><circle cx="654.4" cy="401.7" r="6.4"/><circle cx="654.4" cy="415.3" r="6.4"/><circle cx="654.4" cy="389.4" r="6.4"/><circle cx="654.4" cy="403.0" r="6.4"/><circle cx="654.4" cy="396.2" r="6.4"/><circle cx="654.4" cy="409.8" r="6.4"/><circle cx="654.4" cy="392.8" r="6.4"/><circle cx="654.4" cy="406.4" r="6.4"/><circle cx="654.4" cy="399.6" r="6.4"/><circle cx="654.4" cy="413.2" r="6.4"/><circle cx="654.4" cy="391.1" r="6.4"/><circle cx="654.4" cy="404.7" r="6.4"/><circle cx="654.4" cy="397.9" r="6.4"/><circle cx="654.4" cy="411.5" r="6.4"/></g>
<g fill="#EEA236" fill-opacity="0.16"><circle cx="166.2" cy="462.5" r="6.4"/><circle cx="245.8" cy="462.5" r="6.4"/><circle cx="326.6" cy="462.5" r="6.4"/><circle cx="357.4" cy="462.5" r="6.4"/><circle cx="361.0" cy="462.5" r="6.4"/><circle cx="373.7" cy="462.5" r="6.4"/><circle cx="377.8" cy="462.5" r="6.4"/><circle cx="393.5" cy="462.5" r="6.4"/><circle cx="406.5" cy="462.6" r="6.4"/><circle cx="407.3" cy="462.2" r="6.4"/><circle cx="408.1" cy="463.0" r="6.4"/><circle cx="413.4" cy="462.5" r="6.4"/><circle cx="422.8" cy="462.8" r="6.4"/><circle cx="423.6" cy="462.4" r="6.4"/><circle cx="424.4" cy="463.2" r="6.4"/><circle cx="430.4" cy="462.0" r="6.4"/><circle cx="431.2" cy="462.5" r="6.4"/><circle cx="436.1" cy="462.1" r="6.4"/><circle cx="436.9" cy="462.9" r="6.4"/><circle cx="437.7" cy="461.9" r="6.4"/><circle cx="449.2" cy="462.5" r="6.4"/><circle cx="455.3" cy="462.5" r="6.4"/><circle cx="464.4" cy="463.1" r="6.4"/><circle cx="466.2" cy="461.9" r="6.4"/><circle cx="467.8" cy="462.6" r="6.4"/><circle cx="469.3" cy="462.3" r="6.4"/><circle cx="470.9" cy="463.0" r="6.4"/><circle cx="472.5" cy="462.1" r="6.4"/><circle cx="474.1" cy="462.8" r="6.4"/><circle cx="475.7" cy="462.4" r="6.4"/><circle cx="477.4" cy="463.3" r="6.4"/><circle cx="479.4" cy="461.6" r="6.4"/><circle cx="482.0" cy="462.5" r="6.4"/><circle cx="485.4" cy="462.0" r="6.4"/><circle cx="489.3" cy="463.1" r="6.4"/><circle cx="492.1" cy="461.6" r="6.4"/><circle cx="494.1" cy="462.9" r="6.4"/><circle cx="495.7" cy="462.2" r="6.4"/><circle cx="497.3" cy="463.5" r="6.4"/><circle cx="498.8" cy="461.3" r="6.4"/><circle cx="500.4" cy="462.7" r="6.4"/><circle cx="501.9" cy="462.0" r="6.4"/><circle cx="503.3" cy="463.6" r="6.4"/><circle cx="504.8" cy="461.4" r="6.4"/><circle cx="506.2" cy="463.3" r="6.4"/><circle cx="507.6" cy="462.3" r="6.4"/><circle cx="509.0" cy="464.4" r="6.4"/><circle cx="510.6" cy="460.5" r="6.4"/><circle cx="512.2" cy="462.7" r="6.4"/><circle cx="513.9" cy="461.3" r="6.4"/><circle cx="515.5" cy="464.3" r="6.4"/><circle cx="517.0" cy="460.3" r="6.4"/><circle cx="518.3" cy="463.6" r="6.4"/><circle cx="519.6" cy="462.0" r="6.4"/><circle cx="520.8" cy="465.2" r="6.4"/><circle cx="522.0" cy="459.6" r="6.4"/><circle cx="523.1" cy="463.3" r="6.4"/><circle cx="524.2" cy="461.5" r="6.4"/><circle cx="525.2" cy="465.3" r="6.4"/><circle cx="526.2" cy="460.2" r="6.4"/><circle cx="527.2" cy="464.3" r="6.4"/><circle cx="528.2" cy="462.4" r="6.4"/><circle cx="529.1" cy="466.5" r="6.4"/><circle cx="530.0" cy="458.4" r="6.4"/><circle cx="530.9" cy="462.6" r="6.4"/><circle cx="531.8" cy="460.4" r="6.4"/><circle cx="532.6" cy="464.8" r="6.4"/><circle cx="533.5" cy="458.9" r="6.4"/><circle cx="534.3" cy="463.7" r="6.4"/><circle cx="535.1" cy="461.3" r="6.4"/><circle cx="535.9" cy="466.1" r="6.4"/><circle cx="536.7" cy="458.5" r="6.4"/><circle cx="537.5" cy="463.1" r="6.4"/><circle cx="538.2" cy="460.5" r="6.4"/><circle cx="539.0" cy="465.8" r="6.4"/><circle cx="539.7" cy="459.2" r="6.4"/><circle cx="540.5" cy="464.6" r="6.4"/><circle cx="541.2" cy="461.9" r="6.4"/><circle cx="541.9" cy="467.5" r="6.4"/><circle cx="542.6" cy="456.8" r="6.4"/><circle cx="543.4" cy="462.9" r="6.4"/><circle cx="544.1" cy="460.2" r="6.4"/><circle cx="544.8" cy="465.8" r="6.4"/><circle cx="545.4" cy="458.7" r="6.4"/><circle cx="546.1" cy="464.6" r="6.4"/><circle cx="546.8" cy="461.4" r="6.4"/><circle cx="547.4" cy="467.5" r="6.4"/><circle cx="548.1" cy="457.7" r="6.4"/><circle cx="548.7" cy="463.8" r="6.4"/><circle cx="549.4" cy="460.4" r="6.4"/><circle cx="550.0" cy="466.5" r="6.4"/><circle cx="550.6" cy="458.7" r="6.4"/><circle cx="551.3" cy="465.4" r="6.4"/><circle cx="551.9" cy="462.2" r="6.4"/><circle cx="552.5" cy="468.8" r="6.4"/><circle cx="553.1" cy="455.8" r="6.4"/><circle cx="553.7" cy="462.8" r="6.4"/><circle cx="554.3" cy="459.4" r="6.4"/><circle cx="554.9" cy="466.8" r="6.4"/><circle cx="555.5" cy="457.0" r="6.4"/><circle cx="556.0" cy="464.7" r="6.4"/><circle cx="556.6" cy="461.0" r="6.4"/><circle cx="557.2" cy="468.0" r="6.4"/><circle cx="557.7" cy="456.2" r="6.4"/><circle cx="558.3" cy="463.8" r="6.4"/><circle cx="558.9" cy="459.9" r="6.4"/><circle cx="559.4" cy="467.8" r="6.4"/><circle cx="559.9" cy="458.1" r="6.4"/><circle cx="560.5" cy="465.9" r="6.4"/><circle cx="561.0" cy="461.9" r="6.4"/><circle cx="561.5" cy="470.5" r="6.4"/><circle cx="562.1" cy="454.5" r="6.4"/><circle cx="562.6" cy="463.4" r="6.4"/><circle cx="563.1" cy="459.4" r="6.4"/><circle cx="563.6" cy="467.5" r="6.4"/><circle cx="564.2" cy="457.3" r="6.4"/><circle cx="564.7" cy="465.4" r="6.4"/><circle cx="565.2" cy="461.3" r="6.4"/><circle cx="565.7" cy="469.4" r="6.4"/><circle cx="566.2" cy="455.8" r="6.4"/><circle cx="566.7" cy="464.5" r="6.4"/><circle cx="567.3" cy="460.2" r="6.4"/><circle cx="567.8" cy="468.7" r="6.4"/><circle cx="568.3" cy="458.2" r="6.4"/><circle cx="568.8" cy="466.5" r="6.4"/><circle cx="569.3" cy="462.4" r="6.4"/><circle cx="569.8" cy="470.8" r="6.4"/><circle cx="570.3" cy="453.8" r="6.4"/><circle cx="570.8" cy="462.6" r="6.4"/><circle cx="571.3" cy="458.5" r="6.4"/><circle cx="571.8" cy="467.0" r="6.4"/><circle cx="572.3" cy="456.4" r="6.4"/><circle cx="572.8" cy="464.7" r="6.4"/><circle cx="573.2" cy="460.4" r="6.4"/><circle cx="573.7" cy="468.6" r="6.4"/><circle cx="574.2" cy="454.7" r="6.4"/><circle cx="574.7" cy="463.7" r="6.4"/><circle cx="575.2" cy="459.2" r="6.4"/><circle cx="575.7" cy="468.2" r="6.4"/><circle cx="576.1" cy="456.9" r="6.4"/><circle cx="576.6" cy="465.9" r="6.4"/><circle cx="577.1" cy="461.4" r="6.4"/><circle cx="577.5" cy="470.6" r="6.4"/><circle cx="578.0" cy="453.6" r="6.4"/><circle cx="578.4" cy="463.1" r="6.4"/><circle cx="578.9" cy="458.3" r="6.4"/><circle cx="579.3" cy="468.1" r="6.4"/><circle cx="579.8" cy="455.8" r="6.4"/><circle cx="580.2" cy="465.6" r="6.4"/><circle cx="580.6" cy="460.6" r="6.4"/><circle cx="581.1" cy="470.1" r="6.4"/><circle cx="581.5" cy="454.1" r="6.4"/><circle cx="581.9" cy="464.5" r="6.4"/><circle cx="582.3" cy="459.3" r="6.4"/><circle cx="582.8" cy="469.9" r="6.4"/><circle cx="583.2" cy="456.8" r="6.4"/><circle cx="583.6" cy="467.2" r="6.4"/><circle cx="584.0" cy="461.9" r="6.4"/><circle cx="584.4" cy="472.9" r="6.4"/><circle cx="584.8" cy="452.0" r="6.4"/><circle cx="585.2" cy="462.9" r="6.4"/><circle cx="585.6" cy="457.3" r="6.4"/><circle cx="586.0" cy="468.8" r="6.4"/><circle cx="586.4" cy="454.2" r="6.4"/><circle cx="586.8" cy="465.8" r="6.4"/><circle cx="587.1" cy="460.3" r="6.4"/><circle cx="587.5" cy="471.9" r="6.4"/><circle cx="587.9" cy="453.0" r="6.4"/><circle cx="588.3" cy="464.1" r="6.4"/><circle cx="588.7" cy="458.5" r="6.4"/><circle cx="589.0" cy="469.6" r="6.4"/><circle cx="589.4" cy="456.1" r="6.4"/><circle cx="589.8" cy="467.2" r="6.4"/><circle cx="590.1" cy="461.4" r="6.4"/><circle cx="590.5" cy="473.2" r="6.4"/><circle cx="590.9" cy="451.6" r="6.4"/><circle cx="591.2" cy="463.8" r="6.4"/><circle cx="591.6" cy="457.3" r="6.4"/><circle cx="592.0" cy="469.7" r="6.4"/><circle cx="592.3" cy="454.7" r="6.4"/><circle cx="592.7" cy="466.5" r="6.4"/><circle cx="593.0" cy="460.8" r="6.4"/><circle cx="593.4" cy="473.1" r="6.4"/><circle cx="593.7" cy="452.8" r="6.4"/><circle cx="594.1" cy="465.3" r="6.4"/><circle cx="594.4" cy="459.0" r="6.4"/><circle cx="594.8" cy="471.1" r="6.4"/><circle cx="595.1" cy="456.0" r="6.4"/><circle cx="595.5" cy="468.6" r="6.4"/><circle cx="595.8" cy="462.2" r="6.4"/><circle cx="596.2" cy="475.4" r="6.4"/><circle cx="596.5" cy="450.0" r="6.4"/><circle cx="596.9" cy="462.8" r="6.4"/><circle cx="597.2" cy="456.4" r="6.4"/><circle cx="597.6" cy="468.8" r="6.4"/><circle cx="597.9" cy="454.0" r="6.4"/><circle cx="598.3" cy="466.1" r="6.4"/><circle cx="598.6" cy="459.6" r="6.4"/><circle cx="598.9" cy="472.5" r="6.4"/><circle cx="599.3" cy="452.5" r="6.4"/><circle cx="599.6" cy="464.4" r="6.4"/><circle cx="599.9" cy="458.1" r="6.4"/><circle cx="600.3" cy="470.5" r="6.4"/><circle cx="600.6" cy="455.6" r="6.4"/><circle cx="600.9" cy="467.6" r="6.4"/><circle cx="601.3" cy="461.1" r="6.4"/><circle cx="601.6" cy="474.5" r="6.4"/><circle cx="601.9" cy="450.9" r="6.4"/><circle cx="602.3" cy="463.6" r="6.4"/><circle cx="602.6" cy="456.8" r="6.4"/><circle cx="602.9" cy="469.2" r="6.4"/><circle cx="603.3" cy="453.8" r="6.4"/><circle cx="603.6" cy="467.1" r="6.4"/><circle cx="603.9" cy="460.2" r="6.4"/><circle cx="604.2" cy="474.6" r="6.4"/><circle cx="604.6" cy="451.4" r="6.4"/><circle cx="604.9" cy="465.4" r="6.4"/><circle cx="605.2" cy="458.6" r="6.4"/><circle cx="605.5" cy="472.4" r="6.4"/><circle cx="605.9" cy="455.4" r="6.4"/><circle cx="606.2" cy="468.7" r="6.4"/><circle cx="606.5" cy="461.9" r="6.4"/><circle cx="606.8" cy="476.8" r="6.4"/><circle cx="607.1" cy="449.7" r="6.4"/><circle cx="607.5" cy="463.2" r="6.4"/><circle cx="607.8" cy="456.3" r="6.4"/><circle cx="608.1" cy="470.6" r="6.4"/><circle cx="608.4" cy="452.9" r="6.4"/><circle cx="608.7" cy="467.0" r="6.4"/><circle cx="609.0" cy="459.9" r="6.4"/><circle cx="609.3" cy="473.6" r="6.4"/><circle cx="609.7" cy="451.1" r="6.4"/><circle cx="610.0" cy="465.1" r="6.4"/><circle cx="610.3" cy="457.8" r="6.4"/><circle cx="610.6" cy="471.4" r="6.4"/><circle cx="610.9" cy="454.8" r="6.4"/><circle cx="611.2" cy="468.7" r="6.4"/><circle cx="611.5" cy="461.5" r="6.4"/><circle cx="611.8" cy="474.8" r="6.4"/><circle cx="612.1" cy="449.2" r="6.4"/><circle cx="612.4" cy="464.2" r="6.4"/><circle cx="612.7" cy="456.8" r="6.4"/><circle cx="613.0" cy="471.2" r="6.4"/><circle cx="613.3" cy="452.8" r="6.4"/><circle cx="613.6" cy="467.8" r="6.4"/><circle cx="613.9" cy="460.5" r="6.4"/><circle cx="614.2" cy="474.6" r="6.4"/><circle cx="614.5" cy="451.8" r="6.4"/><circle cx="614.8" cy="466.1" r="6.4"/><circle cx="615.1" cy="458.8" r="6.4"/><circle cx="615.4" cy="473.9" r="6.4"/><circle cx="615.7" cy="454.9" r="6.4"/><circle cx="616.0" cy="469.5" r="6.4"/><circle cx="616.2" cy="462.4" r="6.4"/><circle cx="616.5" cy="477.1" r="6.4"/><circle cx="616.8" cy="446.9" r="6.4"/><circle cx="617.1" cy="462.6" r="6.4"/><circle cx="617.4" cy="455.2" r="6.4"/><circle cx="617.7" cy="470.6" r="6.4"/><circle cx="618.0" cy="449.9" r="6.4"/><circle cx="618.3" cy="466.8" r="6.4"/><circle cx="618.5" cy="458.7" r="6.4"/><circle cx="618.8" cy="474.2" r="6.4"/><circle cx="619.1" cy="448.1" r="6.4"/><circle cx="619.4" cy="464.5" r="6.4"/><circle cx="619.7" cy="457.0" r="6.4"/><circle cx="620.0" cy="472.3" r="6.4"/><circle cx="620.2" cy="452.6" r="6.4"/><circle cx="620.5" cy="468.1" r="6.4"/><circle cx="620.8" cy="460.8" r="6.4"/><circle cx="621.1" cy="475.3" r="6.4"/><circle cx="621.3" cy="447.4" r="6.4"/><circle cx="621.6" cy="463.5" r="6.4"/><circle cx="621.9" cy="455.7" r="6.4"/><circle cx="622.2" cy="471.5" r="6.4"/><circle cx="622.5" cy="451.3" r="6.4"/><circle cx="622.7" cy="467.4" r="6.4"/><circle cx="623.0" cy="459.5" r="6.4"/><circle cx="623.3" cy="475.0" r="6.4"/><circle cx="623.5" cy="449.8" r="6.4"/><circle cx="623.8" cy="465.4" r="6.4"/><circle cx="624.1" cy="457.2" r="6.4"/><circle cx="624.3" cy="473.7" r="6.4"/><circle cx="624.6" cy="453.8" r="6.4"/><circle cx="624.9" cy="469.6" r="6.4"/><circle cx="625.1" cy="461.6" r="6.4"/><circle cx="625.4" cy="478.5" r="6.4"/><circle cx="625.7" cy="447.9" r="6.4"/><circle cx="625.9" cy="463.1" r="6.4"/><circle cx="626.2" cy="454.9" r="6.4"/><circle cx="626.5" cy="472.5" r="6.4"/><circle cx="626.7" cy="450.0" r="6.4"/><circle cx="627.0" cy="467.3" r="6.4"/><circle cx="627.2" cy="458.8" r="6.4"/><circle cx="627.5" cy="477.1" r="6.4"/><circle cx="627.8" cy="448.5" r="6.4"/><circle cx="628.0" cy="465.2" r="6.4"/><circle cx="628.3" cy="456.4" r="6.4"/><circle cx="628.5" cy="474.0" r="6.4"/><circle cx="628.8" cy="452.1" r="6.4"/><circle cx="629.0" cy="469.4" r="6.4"/><circle cx="629.3" cy="460.8" r="6.4"/><circle cx="629.5" cy="479.6" r="6.4"/><circle cx="629.8" cy="446.4" r="6.4"/><circle cx="630.0" cy="464.3" r="6.4"/><circle cx="630.3" cy="456.2" r="6.4"/><circle cx="630.5" cy="473.3" r="6.4"/><circle cx="630.8" cy="451.2" r="6.4"/><circle cx="631.0" cy="468.7" r="6.4"/><circle cx="631.3" cy="459.7" r="6.4"/><circle cx="631.5" cy="477.2" r="6.4"/><circle cx="631.8" cy="449.9" r="6.4"/><circle cx="632.0" cy="466.5" r="6.4"/><circle cx="632.2" cy="457.8" r="6.4"/><circle cx="632.5" cy="475.2" r="6.4"/><circle cx="632.7" cy="453.4" r="6.4"/><circle cx="633.0" cy="470.8" r="6.4"/><circle cx="633.2" cy="462.1" r="6.4"/><circle cx="633.5" cy="481.1" r="6.4"/><circle cx="633.7" cy="444.6" r="6.4"/><circle cx="633.9" cy="462.9" r="6.4"/><circle cx="634.2" cy="452.9" r="6.4"/><circle cx="634.4" cy="471.9" r="6.4"/><circle cx="634.6" cy="450.4" r="6.4"/><circle cx="634.9" cy="467.2" r="6.4"/><circle cx="635.1" cy="458.5" r="6.4"/><circle cx="635.4" cy="476.3" r="6.4"/><circle cx="635.6" cy="446.7" r="6.4"/><circle cx="635.8" cy="464.9" r="6.4"/><circle cx="636.1" cy="455.8" r="6.4"/><circle cx="636.3" cy="473.5" r="6.4"/><circle cx="636.5" cy="451.1" r="6.4"/><circle cx="636.7" cy="469.8" r="6.4"/><circle cx="637.0" cy="460.6" r="6.4"/><circle cx="637.2" cy="479.1" r="6.4"/><circle cx="637.4" cy="445.8" r="6.4"/><circle cx="637.7" cy="464.0" r="6.4"/><circle cx="637.9" cy="455.3" r="6.4"/><circle cx="638.1" cy="473.4" r="6.4"/><circle cx="638.3" cy="448.7" r="6.4"/><circle cx="638.6" cy="469.4" r="6.4"/><circle cx="638.8" cy="459.1" r="6.4"/><circle cx="639.0" cy="478.9" r="6.4"/><circle cx="639.3" cy="447.9" r="6.4"/><circle cx="639.5" cy="466.7" r="6.4"/><circle cx="639.7" cy="456.9" r="6.4"/><circle cx="639.9" cy="476.0" r="6.4"/><circle cx="640.1" cy="452.2" r="6.4"/><circle cx="640.4" cy="471.4" r="6.4"/><circle cx="640.6" cy="461.7" r="6.4"/><circle cx="640.8" cy="481.0" r="6.4"/><circle cx="641.0" cy="445.1" r="6.4"/><circle cx="641.2" cy="463.5" r="6.4"/><circle cx="641.5" cy="452.7" r="6.4"/><circle cx="641.7" cy="473.2" r="6.4"/><circle cx="641.9" cy="449.0" r="6.4"/><circle cx="642.1" cy="468.6" r="6.4"/><circle cx="642.3" cy="458.4" r="6.4"/><circle cx="642.6" cy="477.4" r="6.4"/><circle cx="642.8" cy="446.4" r="6.4"/><circle cx="643.0" cy="466.1" r="6.4"/><circle cx="643.2" cy="456.0" r="6.4"/><circle cx="643.4" cy="476.0" r="6.4"/><circle cx="643.6" cy="450.2" r="6.4"/><circle cx="643.8" cy="470.7" r="6.4"/><circle cx="644.1" cy="461.0" r="6.4"/><circle cx="644.3" cy="480.6" r="6.4"/><circle cx="644.5" cy="443.3" r="6.4"/><circle cx="644.7" cy="464.6" r="6.4"/><circle cx="644.9" cy="455.0" r="6.4"/><circle cx="645.1" cy="474.6" r="6.4"/><circle cx="645.3" cy="449.2" r="6.4"/><circle cx="645.5" cy="470.1" r="6.4"/><circle cx="645.7" cy="459.5" r="6.4"/><circle cx="645.9" cy="478.7" r="6.4"/><circle cx="646.2" cy="446.3" r="6.4"/><circle cx="646.4" cy="467.3" r="6.4"/><circle cx="646.6" cy="457.3" r="6.4"/><circle cx="646.8" cy="478.1" r="6.4"/><circle cx="647.0" cy="452.4" r="6.4"/><circle cx="647.2" cy="471.5" r="6.4"/><circle cx="647.4" cy="462.3" r="6.4"/><circle cx="647.6" cy="481.4" r="6.4"/><circle cx="647.8" cy="442.8" r="6.4"/><circle cx="648.0" cy="462.7" r="6.4"/><circle cx="648.2" cy="452.3" r="6.4"/><circle cx="648.4" cy="473.9" r="6.4"/><circle cx="648.6" cy="447.4" r="6.4"/><circle cx="648.8" cy="467.5" r="6.4"/><circle cx="649.0" cy="457.8" r="6.4"/><circle cx="649.2" cy="477.5" r="6.4"/><circle cx="649.4" cy="445.7" r="6.4"/><circle cx="649.6" cy="465.4" r="6.4"/><circle cx="649.8" cy="455.2" r="6.4"/><circle cx="650.1" cy="474.4" r="6.4"/><circle cx="650.3" cy="449.3" r="6.4"/><circle cx="650.5" cy="470.5" r="6.4"/><circle cx="650.7" cy="460.1" r="6.4"/><circle cx="650.9" cy="481.0" r="6.4"/><circle cx="654.4" cy="441.4" r="6.4"/><circle cx="654.4" cy="464.2" r="6.4"/><circle cx="654.4" cy="452.8" r="6.4"/><circle cx="654.4" cy="475.6" r="6.4"/><circle cx="654.4" cy="447.1" r="6.4"/><circle cx="654.4" cy="469.9" r="6.4"/><circle cx="654.4" cy="458.5" r="6.4"/><circle cx="654.4" cy="481.3" r="6.4"/><circle cx="654.4" cy="444.2" r="6.4"/><circle cx="654.4" cy="467.0" r="6.4"/><circle cx="654.4" cy="455.6" r="6.4"/><circle cx="654.4" cy="478.4" r="6.4"/><circle cx="654.4" cy="449.9" r="6.4"/><circle cx="654.4" cy="472.7" r="6.4"/><circle cx="654.4" cy="461.3" r="6.4"/><circle cx="654.4" cy="484.1" r="6.4"/><circle cx="654.4" cy="440.7" r="6.4"/><circle cx="654.4" cy="463.5" r="6.4"/><circle cx="654.4" cy="452.1" r="6.4"/><circle cx="654.4" cy="474.9" r="6.4"/><circle cx="654.4" cy="446.4" r="6.4"/><circle cx="654.4" cy="469.2" r="6.4"/><circle cx="654.4" cy="457.8" r="6.4"/><circle cx="654.4" cy="480.6" r="6.4"/><circle cx="654.4" cy="443.5" r="6.4"/><circle cx="654.4" cy="466.3" r="6.4"/><circle cx="654.4" cy="454.9" r="6.4"/><circle cx="654.4" cy="477.7" r="6.4"/><circle cx="654.4" cy="449.2" r="6.4"/><circle cx="654.4" cy="472.0" r="6.4"/><circle cx="654.4" cy="460.6" r="6.4"/><circle cx="654.4" cy="483.4" r="6.4"/><circle cx="654.4" cy="442.1" r="6.4"/><circle cx="654.4" cy="464.9" r="6.4"/><circle cx="654.4" cy="453.5" r="6.4"/><circle cx="654.4" cy="476.3" r="6.4"/><circle cx="654.4" cy="447.8" r="6.4"/><circle cx="654.4" cy="470.6" r="6.4"/><circle cx="654.4" cy="459.2" r="6.4"/><circle cx="654.4" cy="482.0" r="6.4"/><circle cx="654.4" cy="445.0" r="6.4"/><circle cx="654.4" cy="467.8" r="6.4"/><circle cx="654.4" cy="456.4" r="6.4"/><circle cx="654.4" cy="479.2" r="6.4"/><circle cx="654.4" cy="450.7" r="6.4"/><circle cx="654.4" cy="473.5" r="6.4"/><circle cx="654.4" cy="462.1" r="6.4"/><circle cx="654.4" cy="484.9" r="6.4"/><circle cx="654.4" cy="440.3" r="6.4"/><circle cx="654.4" cy="463.1" r="6.4"/><circle cx="654.4" cy="451.7" r="6.4"/><circle cx="654.4" cy="474.5" r="6.4"/><circle cx="654.4" cy="446.0" r="6.4"/><circle cx="654.4" cy="468.8" r="6.4"/><circle cx="654.4" cy="457.4" r="6.4"/><circle cx="654.4" cy="480.2" r="6.4"/><circle cx="654.4" cy="443.2" r="6.4"/><circle cx="654.4" cy="466.0" r="6.4"/><circle cx="654.4" cy="454.6" r="6.4"/><circle cx="654.4" cy="477.4" r="6.4"/><circle cx="654.4" cy="448.9" r="6.4"/><circle cx="654.4" cy="471.7" r="6.4"/><circle cx="654.4" cy="460.3" r="6.4"/><circle cx="654.4" cy="483.1" r="6.4"/><circle cx="654.4" cy="441.7" r="6.4"/><circle cx="654.4" cy="464.5" r="6.4"/><circle cx="654.4" cy="453.1" r="6.4"/><circle cx="654.4" cy="475.9" r="6.4"/><circle cx="654.4" cy="447.4" r="6.4"/><circle cx="654.4" cy="470.2" r="6.4"/><circle cx="654.4" cy="458.8" r="6.4"/><circle cx="654.4" cy="481.6" r="6.4"/></g>
<g fill="#46B8DA" fill-opacity="0.16"><circle cx="215.1" cy="522.8" r="6.4"/><circle cx="232.3" cy="522.8" r="6.4"/><circle cx="293.6" cy="522.8" r="6.4"/><circle cx="336.3" cy="522.8" r="6.4"/><circle cx="339.4" cy="522.8" r="6.4"/><circle cx="354.7" cy="522.8" r="6.4"/><circle cx="359.9" cy="522.8" r="6.4"/><circle cx="362.9" cy="522.8" r="6.4"/><circle cx="370.7" cy="522.9" r="6.4"/><circle cx="371.5" cy="522.6" r="6.4"/><circle cx="383.0" cy="523.1" r="6.4"/><circle cx="383.8" cy="522.5" r="6.4"/><circle cx="392.8" cy="523.2" r="6.4"/><circle cx="393.6" cy="522.7" r="6.4"/><circle cx="394.4" cy="523.7" r="6.4"/><circle cx="414.6" cy="521.9" r="6.4"/><circle cx="415.4" cy="522.9" r="6.4"/><circle cx="416.2" cy="522.4" r="6.4"/><circle cx="425.3" cy="523.1" r="6.4"/><circle cx="426.1" cy="522.5" r="6.4"/><circle cx="432.8" cy="522.8" r="6.4"/><circle cx="439.2" cy="522.6" r="6.4"/><circle cx="440.0" cy="523.6" r="6.4"/><circle cx="440.8" cy="522.0" r="6.4"/><circle cx="451.6" cy="523.0" r="6.4"/><circle cx="452.4" cy="522.5" r="6.4"/><circle cx="456.6" cy="523.5" r="6.4"/><circle cx="457.4" cy="522.2" r="6.4"/><circle cx="467.0" cy="523.5" r="6.4"/><circle cx="469.0" cy="522.7" r="6.4"/><circle cx="470.9" cy="524.4" r="6.4"/><circle cx="472.7" cy="521.1" r="6.4"/><circle cx="475.0" cy="522.9" r="6.4"/><circle cx="477.8" cy="521.9" r="6.4"/><circle cx="480.2" cy="523.9" r="6.4"/><circle cx="482.5" cy="521.3" r="6.4"/><circle cx="485.9" cy="523.4" r="6.4"/><circle cx="490.1" cy="522.3" r="6.4"/><circle cx="493.1" cy="524.7" r="6.4"/><circle cx="495.2" cy="520.7" r="6.4"/><circle cx="496.9" cy="523.3" r="6.4"/><circle cx="498.5" cy="521.8" r="6.4"/><circle cx="500.0" cy="524.9" r="6.4"/><circle cx="501.6" cy="520.9" r="6.4"/><circle cx="503.1" cy="524.2" r="6.4"/><circle cx="504.6" cy="522.5" r="6.4"/><circle cx="506.2" cy="525.9" r="6.4"/><circle cx="508.0" cy="519.4" r="6.4"/><circle cx="509.9" cy="523.2" r="6.4"/><circle cx="511.5" cy="521.1" r="6.4"/><circle cx="512.9" cy="525.2" r="6.4"/><circle cx="514.1" cy="519.7" r="6.4"/><circle cx="515.2" cy="524.4" r="6.4"/><circle cx="516.2" cy="522.1" r="6.4"/><circle cx="517.2" cy="526.5" r="6.4"/><circle cx="518.3" cy="519.1" r="6.4"/><circle cx="519.3" cy="523.9" r="6.4"/><circle cx="520.3" cy="521.4" r="6.4"/><circle cx="521.3" cy="526.6" r="6.4"/><circle cx="522.4" cy="520.0" r="6.4"/><circle cx="523.4" cy="525.5" r="6.4"/><circle cx="524.3" cy="522.6" r="6.4"/><circle cx="525.3" cy="528.4" r="6.4"/><circle cx="526.3" cy="516.6" r="6.4"/><circle cx="527.3" cy="522.9" r="6.4"/><circle cx="528.2" cy="519.9" r="6.4"/><circle cx="529.2" cy="526.0" r="6.4"/><circle cx="530.1" cy="518.2" r="6.4"/><circle cx="531.0" cy="524.6" r="6.4"/><circle cx="531.9" cy="521.3" r="6.4"/><circle cx="532.8" cy="528.0" r="6.4"/><circle cx="533.7" cy="516.7" r="6.4"/><circle cx="534.6" cy="523.8" r="6.4"/><circle cx="535.5" cy="520.3" r="6.4"/><circle cx="536.3" cy="527.5" r="6.4"/><circle cx="537.2" cy="518.6" r="6.4"/><circle cx="538.0" cy="525.6" r="6.4"/><circle cx="538.8" cy="522.0" r="6.4"/><circle cx="539.6" cy="530.0" r="6.4"/><circle cx="540.4" cy="515.4" r="6.4"/><circle cx="541.2" cy="523.4" r="6.4"/><circle cx="541.9" cy="519.4" r="6.4"/><circle cx="542.7" cy="527.8" r="6.4"/><circle cx="543.4" cy="517.0" r="6.4"/><circle cx="544.2" cy="525.6" r="6.4"/><circle cx="544.9" cy="521.4" r="6.4"/><circle cx="545.6" cy="530.3" r="6.4"/><circle cx="546.3" cy="516.0" r="6.4"/><circle cx="547.0" cy="524.5" r="6.4"/><circle cx="547.7" cy="520.2" r="6.4"/><circle cx="548.4" cy="529.6" r="6.4"/><circle cx="549.1" cy="517.7" r="6.4"/><circle cx="549.8" cy="527.2" r="6.4"/><circle cx="550.4" cy="522.4" r="6.4"/><circle cx="551.1" cy="532.2" r="6.4"/><circle cx="551.8" cy="514.0" r="6.4"/><circle cx="552.4" cy="523.2" r="6.4"/><circle cx="553.1" cy="517.9" r="6.4"/><circle cx="553.7" cy="528.3" r="6.4"/><circle cx="554.4" cy="516.1" r="6.4"/><circle cx="555.0" cy="525.7" r="6.4"/><circle cx="555.6" cy="520.7" r="6.4"/><circle cx="556.3" cy="531.3" r="6.4"/><circle cx="556.9" cy="514.6" r="6.4"/><circle cx="557.5" cy="524.4" r="6.4"/><circle cx="558.1" cy="519.5" r="6.4"/><circle cx="558.7" cy="529.8" r="6.4"/><circle cx="559.3" cy="516.7" r="6.4"/><circle cx="559.9" cy="527.5" r="6.4"/><circle cx="560.5" cy="522.0" r="6.4"/><circle cx="561.1" cy="532.9" r="6.4"/><circle cx="561.7" cy="513.9" r="6.4"/><circle cx="562.3" cy="524.0" r="6.4"/><circle cx="562.9" cy="518.2" r="6.4"/><circle cx="563.4" cy="529.6" r="6.4"/><circle cx="564.0" cy="515.8" r="6.4"/><circle cx="564.6" cy="526.7" r="6.4"/><circle cx="565.2" cy="521.1" r="6.4"/><circle cx="565.8" cy="531.7" r="6.4"/><circle cx="566.3" cy="514.5" r="6.4"/><circle cx="566.9" cy="525.4" r="6.4"/><circle cx="567.5" cy="519.8" r="6.4"/><circle cx="568.0" cy="530.7" r="6.4"/><circle cx="568.6" cy="517.0" r="6.4"/><circle cx="569.2" cy="528.1" r="6.4"/><circle cx="569.7" cy="522.6" r="6.4"/><circle cx="570.3" cy="533.9" r="6.4"/><circle cx="570.8" cy="511.9" r="6.4"/><circle cx="571.3" cy="522.9" r="6.4"/><circle cx="571.9" cy="516.5" r="6.4"/><circle cx="572.4" cy="528.9" r="6.4"/><circle cx="572.9" cy="513.3" r="6.4"/><circle cx="573.3" cy="526.3" r="6.4"/><circle cx="573.8" cy="519.7" r="6.4"/><circle cx="574.3" cy="533.3" r="6.4"/><circle cx="574.7" cy="511.4" r="6.4"/><circle cx="575.2" cy="524.8" r="6.4"/><circle cx="575.6" cy="516.9" r="6.4"/><circle cx="576.0" cy="533.0" r="6.4"/><circle cx="576.5" cy="513.6" r="6.4"/><circle cx="576.9" cy="528.8" r="6.4"/><circle cx="577.3" cy="521.0" r="6.4"/><circle cx="577.7" cy="536.7" r="6.4"/><circle cx="578.1" cy="506.8" r="6.4"/><circle cx="578.5" cy="523.9" r="6.4"/><circle cx="578.8" cy="515.4" r="6.4"/><circle cx="579.2" cy="532.2" r="6.4"/><circle cx="579.6" cy="510.6" r="6.4"/><circle cx="580.0" cy="528.3" r="6.4"/><circle cx="580.3" cy="519.8" r="6.4"/><circle cx="580.7" cy="537.3" r="6.4"/><circle cx="581.1" cy="508.1" r="6.4"/><circle cx="581.4" cy="526.3" r="6.4"/><circle cx="581.8" cy="517.2" r="6.4"/><circle cx="582.1" cy="535.1" r="6.4"/><circle cx="582.4" cy="513.7" r="6.4"/><circle cx="582.8" cy="531.4" r="6.4"/><circle cx="583.1" cy="521.7" r="6.4"/><circle cx="583.4" cy="540.6" r="6.4"/><circle cx="583.8" cy="504.7" r="6.4"/><circle cx="584.1" cy="523.6" r="6.4"/><circle cx="584.4" cy="514.3" r="6.4"/><circle cx="584.8" cy="532.7" r="6.4"/><circle cx="585.1" cy="509.3" r="6.4"/><circle cx="585.4" cy="528.7" r="6.4"/><circle cx="585.7" cy="519.0" r="6.4"/><circle cx="586.0" cy="539.0" r="6.4"/><circle cx="586.3" cy="507.1" r="6.4"/><circle cx="586.7" cy="525.8" r="6.4"/><circle cx="587.0" cy="515.8" r="6.4"/><circle cx="587.3" cy="535.8" r="6.4"/><circle cx="587.6" cy="512.0" r="6.4"/><circle cx="587.9" cy="530.9" r="6.4"/><circle cx="588.2" cy="521.0" r="6.4"/><circle cx="588.5" cy="542.2" r="6.4"/><circle cx="588.8" cy="505.1" r="6.4"/><circle cx="589.1" cy="524.9" r="6.4"/><circle cx="589.4" cy="514.4" r="6.4"/><circle cx="589.7" cy="534.6" r="6.4"/><circle cx="590.0" cy="509.3" r="6.4"/><circle cx="590.3" cy="530.0" r="6.4"/><circle cx="590.6" cy="519.8" r="6.4"/><circle cx="590.9" cy="539.9" r="6.4"/><circle cx="591.2" cy="506.7" r="6.4"/><circle cx="591.5" cy="527.5" r="6.4"/><circle cx="591.8" cy="517.3" r="6.4"/><circle cx="592.1" cy="537.7" r="6.4"/><circle cx="592.4" cy="511.2" r="6.4"/><circle cx="592.7" cy="533.0" r="6.4"/><circle cx="593.0" cy="522.3" r="6.4"/><circle cx="593.3" cy="544.8" r="6.4"/><circle cx="593.5" cy="501.4" r="6.4"/><circle cx="593.8" cy="523.4" r="6.4"/><circle cx="594.1" cy="513.0" r="6.4"/><circle cx="594.4" cy="534.5" r="6.4"/><circle cx="594.7" cy="507.3" r="6.4"/><circle cx="594.9" cy="529.3" r="6.4"/><circle cx="595.2" cy="517.5" r="6.4"/><circle cx="595.5" cy="538.0" r="6.4"/><circle cx="595.8" cy="505.0" r="6.4"/><circle cx="596.1" cy="526.2" r="6.4"/><circle cx="596.3" cy="514.7" r="6.4"/><circle cx="596.6" cy="537.7" r="6.4"/><circle cx="596.9" cy="509.5" r="6.4"/><circle cx="597.1" cy="531.9" r="6.4"/><circle cx="597.4" cy="520.5" r="6.4"/><circle cx="597.7" cy="542.9" r="6.4"/><circle cx="598.0" cy="501.2" r="6.4"/><circle cx="598.2" cy="524.5" r="6.4"/><circle cx="598.5" cy="513.1" r="6.4"/><circle cx="598.8" cy="535.4" r="6.4"/><circle cx="599.0" cy="507.0" r="6.4"/><circle cx="599.3" cy="530.4" r="6.4"/><circle cx="599.6" cy="519.2" r="6.4"/><circle cx="599.8" cy="542.3" r="6.4"/><circle cx="600.1" cy="505.5" r="6.4"/><circle cx="600.3" cy="527.4" r="6.4"/><circle cx="600.6" cy="516.7" r="6.4"/><circle cx="600.9" cy="539.2" r="6.4"/><circle cx="601.1" cy="510.0" r="6.4"/><circle cx="601.4" cy="534.0" r="6.4"/><circle cx="601.6" cy="521.9" r="6.4"/><circle cx="601.9" cy="546.2" r="6.4"/><circle cx="602.2" cy="500.9" r="6.4"/><circle cx="602.4" cy="524.1" r="6.4"/><circle cx="602.7" cy="512.2" r="6.4"/><circle cx="602.9" cy="536.4" r="6.4"/><circle cx="603.2" cy="506.9" r="6.4"/><circle cx="603.5" cy="529.8" r="6.4"/><circle cx="603.7" cy="518.3" r="6.4"/><circle cx="604.0" cy="541.6" r="6.4"/><circle cx="604.2" cy="504.5" r="6.4"/><circle cx="604.5" cy="527.2" r="6.4"/><circle cx="604.7" cy="515.5" r="6.4"/><circle cx="605.0" cy="539.1" r="6.4"/><circle cx="605.3" cy="510.0" r="6.4"/><circle cx="605.5" cy="533.0" r="6.4"/><circle cx="605.8" cy="521.1" r="6.4"/><circle cx="606.0" cy="544.2" r="6.4"/><circle cx="606.3" cy="500.0" r="6.4"/><circle cx="606.5" cy="525.6" r="6.4"/><circle cx="606.8" cy="513.0" r="6.4"/><circle cx="607.0" cy="538.0" r="6.4"/><circle cx="607.3" cy="508.4" r="6.4"/><circle cx="607.6" cy="531.3" r="6.4"/><circle cx="607.8" cy="519.6" r="6.4"/><circle cx="608.1" cy="543.3" r="6.4"/><circle cx="608.3" cy="504.8" r="6.4"/><circle cx="608.6" cy="528.4" r="6.4"/><circle cx="608.8" cy="517.2" r="6.4"/><circle cx="609.1" cy="540.2" r="6.4"/><circle cx="609.3" cy="512.1" r="6.4"/><circle cx="609.6" cy="534.7" r="6.4"/><circle cx="609.8" cy="522.6" r="6.4"/><circle cx="610.1" cy="545.5" r="6.4"/><circle cx="610.3" cy="499.4" r="6.4"/><circle cx="610.6" cy="522.9" r="6.4"/><circle cx="610.8" cy="511.8" r="6.4"/><circle cx="611.1" cy="533.8" r="6.4"/><circle cx="611.3" cy="505.9" r="6.4"/><circle cx="611.6" cy="528.2" r="6.4"/><circle cx="611.8" cy="517.2" r="6.4"/><circle cx="612.1" cy="542.3" r="6.4"/><circle cx="612.3" cy="503.0" r="6.4"/><circle cx="612.6" cy="526.0" r="6.4"/><circle cx="612.8" cy="514.5" r="6.4"/><circle cx="613.1" cy="538.1" r="6.4"/><circle cx="613.3" cy="508.1" r="6.4"/><circle cx="613.6" cy="531.9" r="6.4"/><circle cx="613.8" cy="519.8" r="6.4"/><circle cx="614.1" cy="545.8" r="6.4"/><circle cx="614.3" cy="500.1" r="6.4"/><circle cx="614.6" cy="524.4" r="6.4"/><circle cx="614.8" cy="512.8" r="6.4"/><circle cx="615.1" cy="536.9" r="6.4"/><circle cx="615.3" cy="506.5" r="6.4"/><circle cx="615.6" cy="530.8" r="6.4"/><circle cx="615.8" cy="518.4" r="6.4"/><circle cx="616.1" cy="544.3" r="6.4"/><circle cx="616.3" cy="505.1" r="6.4"/><circle cx="616.6" cy="527.4" r="6.4"/><circle cx="616.8" cy="515.0" r="6.4"/><circle cx="617.0" cy="539.3" r="6.4"/><circle cx="617.3" cy="509.8" r="6.4"/><circle cx="617.5" cy="533.4" r="6.4"/><circle cx="617.8" cy="521.5" r="6.4"/><circle cx="618.0" cy="545.7" r="6.4"/><circle cx="618.3" cy="496.7" r="6.4"/><circle cx="618.5" cy="523.7" r="6.4"/><circle cx="618.8" cy="512.2" r="6.4"/><circle cx="619.0" cy="535.1" r="6.4"/><circle cx="619.3" cy="506.0" r="6.4"/><circle cx="619.5" cy="530.0" r="6.4"/><circle cx="619.8" cy="517.9" r="6.4"/><circle cx="620.0" cy="540.9" r="6.4"/><circle cx="620.3" cy="501.9" r="6.4"/><circle cx="620.5" cy="526.8" r="6.4"/><circle cx="620.8" cy="514.9" r="6.4"/><circle cx="621.0" cy="537.6" r="6.4"/><circle cx="621.3" cy="509.9" r="6.4"/><circle cx="621.5" cy="532.2" r="6.4"/><circle cx="621.8" cy="520.9" r="6.4"/><circle cx="622.1" cy="545.1" r="6.4"/><circle cx="622.3" cy="502.2" r="6.4"/><circle cx="622.6" cy="525.1" r="6.4"/><circle cx="622.8" cy="512.5" r="6.4"/><circle cx="623.1" cy="537.6" r="6.4"/><circle cx="623.3" cy="508.4" r="6.4"/><circle cx="623.6" cy="531.3" r="6.4"/><circle cx="623.8" cy="519.0" r="6.4"/><circle cx="624.1" cy="541.8" r="6.4"/><circle cx="624.4" cy="505.6" r="6.4"/><circle cx="624.6" cy="527.9" r="6.4"/><circle cx="624.9" cy="516.9" r="6.4"/><circle cx="625.1" cy="540.7" r="6.4"/><circle cx="625.4" cy="512.1" r="6.4"/><circle cx="625.7" cy="533.1" r="6.4"/><circle cx="625.9" cy="522.2" r="6.4"/><circle cx="626.2" cy="544.9" r="6.4"/><circle cx="626.4" cy="500.1" r="6.4"/><circle cx="626.7" cy="523.3" r="6.4"/><circle cx="627.0" cy="511.9" r="6.4"/><circle cx="627.2" cy="535.3" r="6.4"/><circle cx="627.5" cy="507.9" r="6.4"/><circle cx="627.8" cy="528.9" r="6.4"/><circle cx="628.0" cy="517.8" r="6.4"/><circle cx="628.3" cy="540.4" r="6.4"/><circle cx="628.6" cy="503.2" r="6.4"/><circle cx="628.8" cy="525.9" r="6.4"/><circle cx="629.1" cy="515.0" r="6.4"/><circle cx="629.4" cy="537.9" r="6.4"/><circle cx="629.6" cy="509.0" r="6.4"/><circle cx="629.9" cy="531.4" r="6.4"/><circle cx="630.2" cy="520.2" r="6.4"/><circle cx="630.4" cy="545.1" r="6.4"/><circle cx="630.7" cy="503.8" r="6.4"/><circle cx="631.0" cy="524.7" r="6.4"/><circle cx="631.2" cy="512.3" r="6.4"/><circle cx="631.5" cy="536.2" r="6.4"/><circle cx="631.8" cy="507.8" r="6.4"/><circle cx="632.1" cy="530.1" r="6.4"/><circle cx="632.3" cy="519.2" r="6.4"/><circle cx="632.6" cy="540.9" r="6.4"/><circle cx="632.9" cy="505.8" r="6.4"/><circle cx="633.2" cy="527.5" r="6.4"/><circle cx="633.4" cy="516.5" r="6.4"/><circle cx="633.7" cy="537.9" r="6.4"/><circle cx="634.0" cy="511.7" r="6.4"/><circle cx="634.3" cy="532.7" r="6.4"/><circle cx="634.5" cy="521.9" r="6.4"/><circle cx="634.8" cy="543.4" r="6.4"/><circle cx="635.1" cy="501.2" r="6.4"/><circle cx="635.4" cy="523.9" r="6.4"/><circle cx="635.7" cy="512.9" r="6.4"/><circle cx="635.9" cy="534.8" r="6.4"/><circle cx="636.2" cy="507.9" r="6.4"/><circle cx="636.5" cy="529.1" r="6.4"/><circle cx="636.8" cy="518.7" r="6.4"/><circle cx="637.1" cy="540.2" r="6.4"/><circle cx="637.4" cy="506.5" r="6.4"/><circle cx="637.7" cy="526.7" r="6.4"/><circle cx="638.0" cy="516.1" r="6.4"/><circle cx="638.3" cy="536.2" r="6.4"/><circle cx="638.6" cy="511.3" r="6.4"/><circle cx="638.9" cy="531.2" r="6.4"/><circle cx="639.2" cy="521.3" r="6.4"/><circle cx="639.5" cy="540.8" r="6.4"/><circle cx="639.8" cy="504.0" r="6.4"/><circle cx="640.1" cy="525.0" r="6.4"/><circle cx="640.4" cy="516.0" r="6.4"/><circle cx="640.7" cy="534.5" r="6.4"/><circle cx="641.0" cy="511.5" r="6.4"/><circle cx="641.3" cy="529.9" r="6.4"/><circle cx="641.6" cy="520.0" r="6.4"/><circle cx="641.9" cy="540.0" r="6.4"/><circle cx="642.3" cy="509.1" r="6.4"/><circle cx="642.6" cy="527.2" r="6.4"/><circle cx="642.9" cy="517.4" r="6.4"/><circle cx="643.2" cy="537.0" r="6.4"/><circle cx="643.6" cy="513.2" r="6.4"/><circle cx="643.9" cy="532.4" r="6.4"/><circle cx="644.2" cy="522.6" r="6.4"/><circle cx="644.6" cy="542.2" r="6.4"/><circle cx="644.9" cy="504.6" r="6.4"/><circle cx="645.2" cy="523.0" r="6.4"/><circle cx="645.6" cy="513.6" r="6.4"/><circle cx="645.9" cy="531.9" r="6.4"/><circle cx="646.3" cy="510.0" r="6.4"/><circle cx="646.6" cy="527.6" r="6.4"/><circle cx="646.9" cy="518.7" r="6.4"/><circle cx="647.3" cy="536.6" r="6.4"/><circle cx="647.6" cy="507.0" r="6.4"/><circle cx="648.0" cy="525.6" r="6.4"/><circle cx="648.3" cy="516.5" r="6.4"/><circle cx="648.6" cy="534.3" r="6.4"/><circle cx="649.0" cy="511.8" r="6.4"/><circle cx="649.3" cy="530.0" r="6.4"/><circle cx="649.7" cy="520.6" r="6.4"/><circle cx="650.0" cy="538.4" r="6.4"/><circle cx="650.4" cy="506.8" r="6.4"/><circle cx="650.7" cy="524.0" r="6.4"/><circle cx="654.4" cy="515.6" r="6.4"/><circle cx="654.4" cy="532.4" r="6.4"/><circle cx="654.4" cy="511.4" r="6.4"/><circle cx="654.4" cy="528.2" r="6.4"/><circle cx="654.4" cy="519.8" r="6.4"/><circle cx="654.4" cy="536.6" r="6.4"/><circle cx="654.4" cy="509.3" r="6.4"/><circle cx="654.4" cy="526.1" r="6.4"/><circle cx="654.4" cy="517.7" r="6.4"/><circle cx="654.4" cy="534.5" r="6.4"/><circle cx="654.4" cy="513.5" r="6.4"/><circle cx="654.4" cy="530.3" r="6.4"/><circle cx="654.4" cy="521.9" r="6.4"/><circle cx="654.4" cy="538.7" r="6.4"/><circle cx="654.4" cy="506.7" r="6.4"/><circle cx="654.4" cy="523.5" r="6.4"/><circle cx="654.4" cy="515.1" r="6.4"/><circle cx="654.4" cy="531.9" r="6.4"/><circle cx="654.4" cy="510.9" r="6.4"/><circle cx="654.4" cy="527.7" r="6.4"/><circle cx="654.4" cy="519.3" r="6.4"/><circle cx="654.4" cy="536.1" r="6.4"/><circle cx="654.4" cy="508.8" r="6.4"/><circle cx="654.4" cy="525.6" r="6.4"/><circle cx="654.4" cy="517.2" r="6.4"/><circle cx="654.4" cy="534.0" r="6.4"/><circle cx="654.4" cy="513.0" r="6.4"/><circle cx="654.4" cy="529.8" r="6.4"/><circle cx="654.4" cy="521.4" r="6.4"/><circle cx="654.4" cy="538.2" r="6.4"/><circle cx="654.4" cy="507.8" r="6.4"/><circle cx="654.4" cy="524.6" r="6.4"/><circle cx="654.4" cy="516.2" r="6.4"/><circle cx="654.4" cy="533.0" r="6.4"/><circle cx="654.4" cy="512.0" r="6.4"/><circle cx="654.4" cy="528.8" r="6.4"/><circle cx="654.4" cy="520.4" r="6.4"/><circle cx="654.4" cy="537.2" r="6.4"/></g>
<g fill="#357EBD" fill-opacity="0.16"><circle cx="272.7" cy="583.0" r="6.4"/><circle cx="297.2" cy="583.0" r="6.4"/><circle cx="307.8" cy="583.0" r="6.4"/><circle cx="310.1" cy="582.6" r="6.4"/><circle cx="310.9" cy="583.1" r="6.4"/><circle cx="314.3" cy="583.0" r="6.4"/><circle cx="327.6" cy="583.0" r="6.4"/><circle cx="330.6" cy="582.6" r="6.4"/><circle cx="331.4" cy="583.1" r="6.4"/><circle cx="346.8" cy="582.6" r="6.4"/><circle cx="347.6" cy="583.6" r="6.4"/><circle cx="348.4" cy="582.4" r="6.4"/><circle cx="349.2" cy="583.4" r="6.4"/><circle cx="366.2" cy="583.0" r="6.4"/><circle cx="369.7" cy="583.0" r="6.4"/><circle cx="375.5" cy="583.0" r="6.4"/><circle cx="389.2" cy="583.0" r="6.4"/><circle cx="390.0" cy="582.8" r="6.4"/><circle cx="395.8" cy="583.0" r="6.4"/><circle cx="402.1" cy="581.6" r="6.4"/><circle cx="402.9" cy="583.6" r="6.4"/><circle cx="403.7" cy="582.6" r="6.4"/><circle cx="404.5" cy="584.6" r="6.4"/><circle cx="405.3" cy="581.4" r="6.4"/><circle cx="416.5" cy="583.6" r="6.4"/><circle cx="417.3" cy="582.1" r="6.4"/><circle cx="418.1" cy="585.1" r="6.4"/><circle cx="418.9" cy="581.3" r="6.4"/><circle cx="424.3" cy="583.4" r="6.4"/><circle cx="425.1" cy="582.9" r="6.4"/><circle cx="435.8" cy="586.8" r="6.4"/><circle cx="436.6" cy="579.1" r="6.4"/><circle cx="437.4" cy="583.1" r="6.4"/><circle cx="438.2" cy="581.1" r="6.4"/><circle cx="439.0" cy="585.1" r="6.4"/><circle cx="439.8" cy="580.1" r="6.4"/><circle cx="456.8" cy="584.1" r="6.4"/><circle cx="457.6" cy="582.1" r="6.4"/><circle cx="458.4" cy="586.1" r="6.4"/><circle cx="459.2" cy="579.6" r="6.4"/><circle cx="460.0" cy="583.6" r="6.4"/><circle cx="460.8" cy="581.6" r="6.4"/><circle cx="470.9" cy="586.3" r="6.4"/><circle cx="471.7" cy="580.0" r="6.4"/><circle cx="472.5" cy="585.0" r="6.4"/><circle cx="473.3" cy="582.5" r="6.4"/><circle cx="474.1" cy="587.5" r="6.4"/><circle cx="474.9" cy="578.5" r="6.4"/><circle cx="479.6" cy="583.5" r="6.4"/><circle cx="481.1" cy="580.6" r="6.4"/><circle cx="482.6" cy="586.5" r="6.4"/><circle cx="484.0" cy="579.2" r="6.4"/><circle cx="485.4" cy="585.1" r="6.4"/><circle cx="486.7" cy="582.0" r="6.4"/><circle cx="487.9" cy="588.7" r="6.4"/><circle cx="489.2" cy="577.8" r="6.4"/><circle cx="490.3" cy="584.5" r="6.4"/><circle cx="491.5" cy="581.2" r="6.4"/><circle cx="492.6" cy="587.9" r="6.4"/><circle cx="493.7" cy="578.8" r="6.4"/><circle cx="494.7" cy="586.1" r="6.4"/><circle cx="495.7" cy="582.8" r="6.4"/><circle cx="496.7" cy="590.6" r="6.4"/><circle cx="497.6" cy="575.4" r="6.4"/><circle cx="498.5" cy="583.1" r="6.4"/><circle cx="499.4" cy="579.1" r="6.4"/><circle cx="500.3" cy="587.3" r="6.4"/><circle cx="501.1" cy="576.7" r="6.4"/><circle cx="501.9" cy="585.1" r="6.4"/><circle cx="502.7" cy="580.9" r="6.4"/><circle cx="503.4" cy="589.9" r="6.4"/><circle cx="504.2" cy="574.9" r="6.4"/><circle cx="504.9" cy="584.4" r="6.4"/><circle cx="505.5" cy="579.2" r="6.4"/><circle cx="506.2" cy="590.0" r="6.4"/><circle cx="506.8" cy="576.7" r="6.4"/><circle cx="507.5" cy="587.4" r="6.4"/><circle cx="508.1" cy="581.7" r="6.4"/><circle cx="508.7" cy="593.6" r="6.4"/><circle cx="509.2" cy="571.7" r="6.4"/><circle cx="509.8" cy="583.9" r="6.4"/><circle cx="510.4" cy="578.1" r="6.4"/><circle cx="510.9" cy="590.1" r="6.4"/><circle cx="511.5" cy="575.5" r="6.4"/><circle cx="512.0" cy="587.0" r="6.4"/><circle cx="512.6" cy="581.0" r="6.4"/><circle cx="513.1" cy="592.9" r="6.4"/><circle cx="513.6" cy="574.1" r="6.4"/><circle cx="514.2" cy="585.4" r="6.4"/><circle cx="514.7" cy="579.4" r="6.4"/><circle cx="515.2" cy="592.1" r="6.4"/><circle cx="515.7" cy="575.9" r="6.4"/><circle cx="516.2" cy="588.6" r="6.4"/><circle cx="516.7" cy="582.4" r="6.4"/><circle cx="517.2" cy="594.5" r="6.4"/><circle cx="517.7" cy="570.7" r="6.4"/><circle cx="518.2" cy="583.6" r="6.4"/><circle cx="518.7" cy="577.0" r="6.4"/><circle cx="519.2" cy="590.6" r="6.4"/><circle cx="519.7" cy="574.0" r="6.4"/><circle cx="520.2" cy="586.6" r="6.4"/><circle cx="520.6" cy="580.5" r="6.4"/><circle cx="521.1" cy="592.6" r="6.4"/><circle cx="521.6" cy="572.8" r="6.4"/><circle cx="522.1" cy="585.4" r="6.4"/><circle cx="522.5" cy="578.6" r="6.4"/><circle cx="523.0" cy="591.2" r="6.4"/><circle cx="523.5" cy="575.0" r="6.4"/><circle cx="523.9" cy="589.0" r="6.4"/><circle cx="524.4" cy="582.0" r="6.4"/><circle cx="524.8" cy="595.0" r="6.4"/><circle cx="525.3" cy="571.2" r="6.4"/><circle cx="525.8" cy="584.5" r="6.4"/><circle cx="526.2" cy="577.5" r="6.4"/><circle cx="526.7" cy="591.8" r="6.4"/><circle cx="527.1" cy="573.7" r="6.4"/><circle cx="527.6" cy="588.3" r="6.4"/><circle cx="528.0" cy="580.9" r="6.4"/><circle cx="528.5" cy="595.3" r="6.4"/><circle cx="528.9" cy="573.1" r="6.4"/><circle cx="529.3" cy="586.3" r="6.4"/><circle cx="529.8" cy="579.2" r="6.4"/><circle cx="530.2" cy="593.2" r="6.4"/><circle cx="530.7" cy="575.4" r="6.4"/><circle cx="531.1" cy="589.8" r="6.4"/><circle cx="531.5" cy="582.8" r="6.4"/><circle cx="532.0" cy="598.1" r="6.4"/><circle cx="532.4" cy="568.3" r="6.4"/><circle cx="532.8" cy="583.1" r="6.4"/><circle cx="533.2" cy="575.5" r="6.4"/><circle cx="533.7" cy="590.8" r="6.4"/><circle cx="534.1" cy="571.9" r="6.4"/><circle cx="534.5" cy="586.3" r="6.4"/><circle cx="534.9" cy="579.5" r="6.4"/><circle cx="535.3" cy="594.0" r="6.4"/><circle cx="535.8" cy="570.7" r="6.4"/><circle cx="536.2" cy="585.0" r="6.4"/><circle cx="536.6" cy="577.1" r="6.4"/><circle cx="537.0" cy="592.4" r="6.4"/><circle cx="537.4" cy="574.1" r="6.4"/><circle cx="537.8" cy="589.5" r="6.4"/><circle cx="538.2" cy="581.2" r="6.4"/><circle cx="538.6" cy="595.8" r="6.4"/><circle cx="539.0" cy="568.4" r="6.4"/><circle cx="539.4" cy="584.1" r="6.4"/><circle cx="539.8" cy="576.5" r="6.4"/><circle cx="540.2" cy="592.3" r="6.4"/><circle cx="540.6" cy="572.5" r="6.4"/><circle cx="541.0" cy="587.8" r="6.4"/><circle cx="541.4" cy="580.1" r="6.4"/><circle cx="541.8" cy="596.6" r="6.4"/><circle cx="542.1" cy="570.5" r="6.4"/><circle cx="542.5" cy="586.2" r="6.4"/><circle cx="542.9" cy="578.1" r="6.4"/><circle cx="543.3" cy="595.9" r="6.4"/><circle cx="543.7" cy="574.3" r="6.4"/><circle cx="544.0" cy="590.8" r="6.4"/><circle cx="544.4" cy="582.1" r="6.4"/><circle cx="544.8" cy="598.5" r="6.4"/><circle cx="545.2" cy="566.5" r="6.4"/><circle cx="545.5" cy="583.7" r="6.4"/><circle cx="545.9" cy="574.8" r="6.4"/><circle cx="546.3" cy="592.2" r="6.4"/><circle cx="546.7" cy="571.4" r="6.4"/><circle cx="547.0" cy="587.8" r="6.4"/><circle cx="547.4" cy="579.3" r="6.4"/><circle cx="547.7" cy="596.8" r="6.4"/><circle cx="548.1" cy="567.7" r="6.4"/><circle cx="548.5" cy="585.9" r="6.4"/><circle cx="548.8" cy="576.9" r="6.4"/><circle cx="549.2" cy="595.3" r="6.4"/><circle cx="549.5" cy="572.8" r="6.4"/><circle cx="549.9" cy="589.7" r="6.4"/><circle cx="550.3" cy="581.6" r="6.4"/><circle cx="550.6" cy="597.8" r="6.4"/><circle cx="551.0" cy="566.0" r="6.4"/><circle cx="551.3" cy="584.7" r="6.4"/><circle cx="551.7" cy="575.5" r="6.4"/><circle cx="552.0" cy="594.0" r="6.4"/><circle cx="552.4" cy="570.5" r="6.4"/><circle cx="552.7" cy="589.6" r="6.4"/><circle cx="553.1" cy="580.4" r="6.4"/><circle cx="553.4" cy="598.1" r="6.4"/><circle cx="553.7" cy="569.1" r="6.4"/><circle cx="554.1" cy="587.1" r="6.4"/><circle cx="554.4" cy="578.2" r="6.4"/><circle cx="554.8" cy="596.1" r="6.4"/><circle cx="555.1" cy="572.7" r="6.4"/><circle cx="555.4" cy="590.9" r="6.4"/><circle cx="555.8" cy="582.6" r="6.4"/><circle cx="556.1" cy="600.1" r="6.4"/><circle cx="556.4" cy="564.9" r="6.4"/><circle cx="556.8" cy="583.4" r="6.4"/><circle cx="557.1" cy="574.2" r="6.4"/><circle cx="557.4" cy="593.1" r="6.4"/><circle cx="557.8" cy="570.6" r="6.4"/><circle cx="558.1" cy="588.4" r="6.4"/><circle cx="558.4" cy="578.9" r="6.4"/><circle cx="558.8" cy="597.9" r="6.4"/><circle cx="559.1" cy="566.9" r="6.4"/><circle cx="559.4" cy="585.4" r="6.4"/><circle cx="559.7" cy="576.6" r="6.4"/><circle cx="560.1" cy="595.4" r="6.4"/><circle cx="560.4" cy="570.7" r="6.4"/><circle cx="560.7" cy="590.7" r="6.4"/><circle cx="561.0" cy="581.0" r="6.4"/><circle cx="561.3" cy="598.9" r="6.4"/><circle cx="561.7" cy="564.2" r="6.4"/><circle cx="562.0" cy="584.8" r="6.4"/><circle cx="562.3" cy="575.0" r="6.4"/><circle cx="562.6" cy="594.2" r="6.4"/><circle cx="562.9" cy="571.2" r="6.4"/><circle cx="563.2" cy="589.8" r="6.4"/><circle cx="563.5" cy="579.4" r="6.4"/><circle cx="563.9" cy="599.9" r="6.4"/><circle cx="564.2" cy="566.6" r="6.4"/><circle cx="564.5" cy="587.2" r="6.4"/><circle cx="564.8" cy="577.6" r="6.4"/><circle cx="565.1" cy="597.9" r="6.4"/><circle cx="565.4" cy="573.0" r="6.4"/><circle cx="565.7" cy="592.0" r="6.4"/><circle cx="566.0" cy="582.2" r="6.4"/><circle cx="566.3" cy="602.9" r="6.4"/><circle cx="566.6" cy="563.8" r="6.4"/><circle cx="566.9" cy="584.1" r="6.4"/><circle cx="567.2" cy="574.4" r="6.4"/><circle cx="567.5" cy="593.4" r="6.4"/><circle cx="567.8" cy="569.0" r="6.4"/><circle cx="568.1" cy="588.9" r="6.4"/><circle cx="568.4" cy="579.3" r="6.4"/><circle cx="568.7" cy="598.2" r="6.4"/><circle cx="569.0" cy="566.8" r="6.4"/><circle cx="569.3" cy="586.3" r="6.4"/><circle cx="569.6" cy="576.9" r="6.4"/><circle cx="569.9" cy="595.7" r="6.4"/><circle cx="570.2" cy="571.2" r="6.4"/><circle cx="570.5" cy="592.0" r="6.4"/><circle cx="570.8" cy="581.4" r="6.4"/><circle cx="571.1" cy="600.7" r="6.4"/><circle cx="571.4" cy="565.4" r="6.4"/><circle cx="571.7" cy="585.5" r="6.4"/><circle cx="572.0" cy="575.2" r="6.4"/><circle cx="572.3" cy="595.6" r="6.4"/><circle cx="572.6" cy="568.7" r="6.4"/><circle cx="572.9" cy="590.5" r="6.4"/><circle cx="573.2" cy="580.4" r="6.4"/><circle cx="573.4" cy="599.9" r="6.4"/><circle cx="573.7" cy="566.9" r="6.4"/><circle cx="574.0" cy="588.2" r="6.4"/><circle cx="574.3" cy="577.9" r="6.4"/><circle cx="574.6" cy="597.9" r="6.4"/><circle cx="574.9" cy="572.0" r="6.4"/><circle cx="575.2" cy="593.7" r="6.4"/><circle cx="575.4" cy="582.8" r="6.4"/><circle cx="575.7" cy="604.7" r="6.4"/><circle cx="576.0" cy="561.2" r="6.4"/><circle cx="576.3" cy="583.1" r="6.4"/><circle cx="576.6" cy="572.6" r="6.4"/><circle cx="576.8" cy="594.0" r="6.4"/><circle cx="577.1" cy="567.5" r="6.4"/><circle cx="577.4" cy="587.9" r="6.4"/><circle cx="577.7" cy="577.8" r="6.4"/><circle cx="578.0" cy="599.8" r="6.4"/><circle cx="578.2" cy="562.8" r="6.4"/><circle cx="578.5" cy="585.5" r="6.4"/><circle cx="578.8" cy="573.9" r="6.4"/><circle cx="579.1" cy="595.8" r="6.4"/><circle cx="579.4" cy="568.9" r="6.4"/><circle cx="579.6" cy="591.7" r="6.4"/><circle cx="579.9" cy="580.2" r="6.4"/><circle cx="580.2" cy="602.2" r="6.4"/><circle cx="580.5" cy="563.9" r="6.4"/><circle cx="580.7" cy="584.5" r="6.4"/><circle cx="581.0" cy="573.9" r="6.4"/><circle cx="581.3" cy="593.8" r="6.4"/><circle cx="581.6" cy="565.9" r="6.4"/><circle cx="581.8" cy="590.2" r="6.4"/><circle cx="582.1" cy="578.6" r="6.4"/><circle cx="582.4" cy="600.1" r="6.4"/><circle cx="582.7" cy="563.9" r="6.4"/><circle cx="582.9" cy="587.5" r="6.4"/><circle cx="583.2" cy="575.7" r="6.4"/><circle cx="583.5" cy="598.2" r="6.4"/><circle cx="583.7" cy="571.4" r="6.4"/><circle cx="584.0" cy="592.7" r="6.4"/><circle cx="584.3" cy="581.8" r="6.4"/><circle cx="584.6" cy="602.1" r="6.4"/><circle cx="584.8" cy="561.5" r="6.4"/><circle cx="585.1" cy="583.7" r="6.4"/><circle cx="585.4" cy="572.7" r="6.4"/><circle cx="585.6" cy="594.8" r="6.4"/><circle cx="585.9" cy="565.5" r="6.4"/><circle cx="586.2" cy="589.8" r="6.4"/><circle cx="586.4" cy="578.2" r="6.4"/><circle cx="586.7" cy="601.6" r="6.4"/><circle cx="587.0" cy="564.9" r="6.4"/><circle cx="587.2" cy="586.5" r="6.4"/><circle cx="587.5" cy="575.0" r="6.4"/><circle cx="587.8" cy="596.9" r="6.4"/><circle cx="588.0" cy="569.9" r="6.4"/><circle cx="588.3" cy="591.6" r="6.4"/><circle cx="588.6" cy="581.0" r="6.4"/><circle cx="588.8" cy="605.2" r="6.4"/><circle cx="589.1" cy="563.4" r="6.4"/><circle cx="589.4" cy="585.2" r="6.4"/><circle cx="589.6" cy="574.3" r="6.4"/><circle cx="589.9" cy="595.8" r="6.4"/><circle cx="590.1" cy="569.1" r="6.4"/><circle cx="590.4" cy="591.5" r="6.4"/><circle cx="590.7" cy="579.1" r="6.4"/><circle cx="590.9" cy="602.8" r="6.4"/><circle cx="591.2" cy="565.9" r="6.4"/><circle cx="591.5" cy="588.3" r="6.4"/><circle cx="591.7" cy="576.8" r="6.4"/><circle cx="592.0" cy="600.2" r="6.4"/><circle cx="592.2" cy="570.7" r="6.4"/><circle cx="592.5" cy="594.0" r="6.4"/><circle cx="592.8" cy="582.4" r="6.4"/><circle cx="593.0" cy="604.7" r="6.4"/><circle cx="593.3" cy="560.9" r="6.4"/><circle cx="593.5" cy="583.4" r="6.4"/><circle cx="593.8" cy="572.2" r="6.4"/><circle cx="594.0" cy="594.1" r="6.4"/><circle cx="594.3" cy="566.2" r="6.4"/><circle cx="594.6" cy="588.9" r="6.4"/><circle cx="594.8" cy="577.6" r="6.4"/><circle cx="595.1" cy="601.3" r="6.4"/><circle cx="595.3" cy="564.5" r="6.4"/><circle cx="595.6" cy="586.2" r="6.4"/><circle cx="595.8" cy="575.1" r="6.4"/><circle cx="596.1" cy="598.6" r="6.4"/><circle cx="596.4" cy="567.7" r="6.4"/><circle cx="596.6" cy="592.6" r="6.4"/><circle cx="596.9" cy="580.6" r="6.4"/><circle cx="597.1" cy="605.5" r="6.4"/><circle cx="597.4" cy="563.1" r="6.4"/><circle cx="597.6" cy="585.1" r="6.4"/><circle cx="597.9" cy="573.5" r="6.4"/><circle cx="598.1" cy="594.8" r="6.4"/><circle cx="598.4" cy="565.3" r="6.4"/><circle cx="598.6" cy="591.4" r="6.4"/><circle cx="598.9" cy="579.3" r="6.4"/><circle cx="599.1" cy="602.6" r="6.4"/><circle cx="599.4" cy="564.7" r="6.4"/><circle cx="599.7" cy="587.8" r="6.4"/><circle cx="599.9" cy="576.7" r="6.4"/><circle cx="600.2" cy="598.9" r="6.4"/><circle cx="600.4" cy="570.1" r="6.4"/><circle cx="600.7" cy="593.7" r="6.4"/><circle cx="600.9" cy="581.9" r="6.4"/><circle cx="601.2" cy="605.2" r="6.4"/><circle cx="601.5" cy="558.5" r="6.4"/><circle cx="601.7" cy="584.1" r="6.4"/><circle cx="602.0" cy="572.5" r="6.4"/><circle cx="602.2" cy="594.4" r="6.4"/><circle cx="602.5" cy="568.0" r="6.4"/><circle cx="602.7" cy="590.3" r="6.4"/><circle cx="603.0" cy="578.7" r="6.4"/><circle cx="603.3" cy="601.8" r="6.4"/><circle cx="603.5" cy="564.3" r="6.4"/><circle cx="603.8" cy="586.8" r="6.4"/><circle cx="604.1" cy="575.8" r="6.4"/><circle cx="604.3" cy="597.9" r="6.4"/><circle cx="604.6" cy="570.3" r="6.4"/><circle cx="604.8" cy="593.0" r="6.4"/><circle cx="605.1" cy="581.3" r="6.4"/><circle cx="605.4" cy="603.3" r="6.4"/><circle cx="605.6" cy="563.9" r="6.4"/><circle cx="605.9" cy="585.6" r="6.4"/><circle cx="606.2" cy="574.4" r="6.4"/><circle cx="606.4" cy="597.5" r="6.4"/><circle cx="606.7" cy="566.8" r="6.4"/><circle cx="607.0" cy="591.5" r="6.4"/><circle cx="607.2" cy="580.0" r="6.4"/><circle cx="607.5" cy="602.1" r="6.4"/><circle cx="607.8" cy="566.8" r="6.4"/><circle cx="608.0" cy="588.1" r="6.4"/><circle cx="608.3" cy="577.5" r="6.4"/><circle cx="608.6" cy="599.0" r="6.4"/><circle cx="608.8" cy="571.9" r="6.4"/><circle cx="609.1" cy="594.2" r="6.4"/><circle cx="609.4" cy="582.7" r="6.4"/><circle cx="609.7" cy="604.5" r="6.4"/><circle cx="609.9" cy="562.6" r="6.4"/><circle cx="610.2" cy="583.3" r="6.4"/><circle cx="610.5" cy="572.0" r="6.4"/><circle cx="610.8" cy="595.2" r="6.4"/><circle cx="611.0" cy="566.2" r="6.4"/><circle cx="611.3" cy="589.1" r="6.4"/><circle cx="611.6" cy="577.9" r="6.4"/><circle cx="611.9" cy="600.1" r="6.4"/><circle cx="612.1" cy="561.7" r="6.4"/><circle cx="612.4" cy="585.8" r="6.4"/><circle cx="612.7" cy="574.7" r="6.4"/><circle cx="613.0" cy="597.9" r="6.4"/><circle cx="613.2" cy="569.5" r="6.4"/><circle cx="613.5" cy="591.6" r="6.4"/><circle cx="613.8" cy="580.4" r="6.4"/><circle cx="614.1" cy="601.4" r="6.4"/><circle cx="614.4" cy="562.8" r="6.4"/><circle cx="614.6" cy="584.5" r="6.4"/><circle cx="614.9" cy="574.2" r="6.4"/><circle cx="615.2" cy="594.9" r="6.4"/><circle cx="615.5" cy="568.7" r="6.4"/><circle cx="615.8" cy="589.9" r="6.4"/><circle cx="616.0" cy="579.2" r="6.4"/><circle cx="616.3" cy="599.2" r="6.4"/><circle cx="616.6" cy="564.4" r="6.4"/><circle cx="616.9" cy="587.5" r="6.4"/><circle cx="617.2" cy="576.4" r="6.4"/><circle cx="617.5" cy="597.4" r="6.4"/><circle cx="617.8" cy="571.5" r="6.4"/><circle cx="618.0" cy="592.7" r="6.4"/><circle cx="618.3" cy="581.9" r="6.4"/><circle cx="618.6" cy="601.1" r="6.4"/><circle cx="618.9" cy="562.3" r="6.4"/><circle cx="619.2" cy="584.0" r="6.4"/><circle cx="619.5" cy="574.4" r="6.4"/><circle cx="619.8" cy="594.8" r="6.4"/><circle cx="620.1" cy="568.1" r="6.4"/><circle cx="620.4" cy="589.0" r="6.4"/><circle cx="620.7" cy="578.5" r="6.4"/><circle cx="621.0" cy="598.0" r="6.4"/><circle cx="621.3" cy="566.3" r="6.4"/><circle cx="621.6" cy="586.6" r="6.4"/><circle cx="621.9" cy="576.6" r="6.4"/><circle cx="622.2" cy="595.7" r="6.4"/><circle cx="622.5" cy="571.7" r="6.4"/><circle cx="622.8" cy="590.8" r="6.4"/><circle cx="623.1" cy="581.3" r="6.4"/><circle cx="623.5" cy="599.3" r="6.4"/><circle cx="623.8" cy="565.7" r="6.4"/><circle cx="624.1" cy="584.8" r="6.4"/><circle cx="624.5" cy="575.6" r="6.4"/><circle cx="624.8" cy="593.8" r="6.4"/><circle cx="625.2" cy="573.1" r="6.4"/><circle cx="625.5" cy="589.2" r="6.4"/><circle cx="625.9" cy="580.6" r="6.4"/><circle cx="626.2" cy="597.2" r="6.4"/><circle cx="626.6" cy="569.1" r="6.4"/><circle cx="627.0" cy="586.6" r="6.4"/><circle cx="627.3" cy="578.9" r="6.4"/><circle cx="627.7" cy="595.6" r="6.4"/><circle cx="628.1" cy="574.8" r="6.4"/><circle cx="628.5" cy="591.0" r="6.4"/><circle cx="628.9" cy="582.7" r="6.4"/><circle cx="629.3" cy="597.0" r="6.4"/><circle cx="629.7" cy="568.8" r="6.4"/><circle cx="630.2" cy="583.4" r="6.4"/><circle cx="630.6" cy="576.0" r="6.4"/><circle cx="631.0" cy="590.3" r="6.4"/><circle cx="631.5" cy="573.3" r="6.4"/><circle cx="632.0" cy="586.6" r="6.4"/><circle cx="632.4" cy="580.2" r="6.4"/><circle cx="632.9" cy="593.7" r="6.4"/><circle cx="633.4" cy="572.7" r="6.4"/><circle cx="633.9" cy="584.7" r="6.4"/><circle cx="634.5" cy="579.1" r="6.4"/><circle cx="635.0" cy="590.5" r="6.4"/><circle cx="635.6" cy="576.3" r="6.4"/><circle cx="636.2" cy="587.2" r="6.4"/><circle cx="636.8" cy="582.0" r="6.4"/><circle cx="637.4" cy="592.0" r="6.4"/><circle cx="638.0" cy="574.9" r="6.4"/><circle cx="638.7" cy="583.8" r="6.4"/><circle cx="639.3" cy="579.1" r="6.4"/><circle cx="640.0" cy="588.0" r="6.4"/><circle cx="640.7" cy="577.3" r="6.4"/><circle cx="641.5" cy="585.9" r="6.4"/><circle cx="642.3" cy="581.7" r="6.4"/><circle cx="643.1" cy="589.2" r="6.4"/><circle cx="643.9" cy="576.6" r="6.4"/><circle cx="644.8" cy="584.6" r="6.4"/><circle cx="645.6" cy="581.0" r="6.4"/><circle cx="646.5" cy="588.3" r="6.4"/><circle cx="647.4" cy="579.1" r="6.4"/><circle cx="648.2" cy="586.1" r="6.4"/><circle cx="649.1" cy="582.8" r="6.4"/><circle cx="654.4" cy="590.3" r="6.4"/><circle cx="654.4" cy="575.8" r="6.4"/><circle cx="654.4" cy="583.4" r="6.4"/><circle cx="654.4" cy="579.6" r="6.4"/><circle cx="654.4" cy="587.2" r="6.4"/><circle cx="654.4" cy="577.7" r="6.4"/><circle cx="654.4" cy="585.3" r="6.4"/><circle cx="654.4" cy="581.5" r="6.4"/><circle cx="654.4" cy="589.1" r="6.4"/><circle cx="654.4" cy="576.8" r="6.4"/><circle cx="654.4" cy="584.4" r="6.4"/><circle cx="654.4" cy="580.6" r="6.4"/><circle cx="654.4" cy="588.2" r="6.4"/><circle cx="654.4" cy="578.7" r="6.4"/><circle cx="654.4" cy="586.3" r="6.4"/></g>
<g fill="#9632B8" fill-opacity="0.16"><circle cx="401.1" cy="643.0" r="6.4"/><circle cx="412.7" cy="643.0" r="6.4"/><circle cx="440.2" cy="643.0" r="6.4"/><circle cx="443.3" cy="643.0" r="6.4"/><circle cx="458.6" cy="643.0" r="6.4"/><circle cx="462.3" cy="642.9" r="6.4"/><circle cx="463.1" cy="643.4" r="6.4"/><circle cx="466.8" cy="643.0" r="6.4"/><circle cx="485.2" cy="643.0" r="6.4"/><circle cx="490.9" cy="642.6" r="6.4"/><circle cx="491.7" cy="643.6" r="6.4"/><circle cx="495.6" cy="642.1" r="6.4"/><circle cx="496.4" cy="643.6" r="6.4"/><circle cx="497.2" cy="642.8" r="6.4"/><circle cx="507.3" cy="643.9" r="6.4"/><circle cx="508.1" cy="642.1" r="6.4"/><circle cx="513.7" cy="643.1" r="6.4"/><circle cx="514.9" cy="642.0" r="6.4"/><circle cx="516.1" cy="644.4" r="6.4"/><circle cx="517.2" cy="641.0" r="6.4"/><circle cx="518.3" cy="643.9" r="6.4"/><circle cx="519.5" cy="642.4" r="6.4"/><circle cx="520.6" cy="645.6" r="6.4"/><circle cx="521.7" cy="640.3" r="6.4"/><circle cx="522.8" cy="643.6" r="6.4"/><circle cx="523.9" cy="641.9" r="6.4"/><circle cx="525.0" cy="645.7" r="6.4"/><circle cx="526.2" cy="640.7" r="6.4"/><circle cx="527.2" cy="644.8" r="6.4"/><circle cx="528.3" cy="642.7" r="6.4"/><circle cx="529.5" cy="647.1" r="6.4"/><circle cx="530.7" cy="638.3" r="6.4"/><circle cx="532.0" cy="643.2" r="6.4"/><circle cx="533.4" cy="640.6" r="6.4"/><circle cx="534.8" cy="645.9" r="6.4"/><circle cx="536.1" cy="638.6" r="6.4"/><circle cx="537.4" cy="644.7" r="6.4"/><circle cx="538.6" cy="641.7" r="6.4"/><circle cx="539.7" cy="648.0" r="6.4"/><circle cx="540.9" cy="637.1" r="6.4"/><circle cx="541.9" cy="643.9" r="6.4"/><circle cx="542.9" cy="640.7" r="6.4"/><circle cx="543.9" cy="647.4" r="6.4"/><circle cx="544.9" cy="638.9" r="6.4"/><circle cx="545.8" cy="645.9" r="6.4"/><circle cx="546.7" cy="642.3" r="6.4"/><circle cx="547.6" cy="650.1" r="6.4"/><circle cx="548.4" cy="636.2" r="6.4"/><circle cx="549.2" cy="643.8" r="6.4"/><circle cx="550.1" cy="639.6" r="6.4"/><circle cx="550.9" cy="647.7" r="6.4"/><circle cx="551.6" cy="637.4" r="6.4"/><circle cx="552.4" cy="646.2" r="6.4"/><circle cx="553.1" cy="641.6" r="6.4"/><circle cx="553.9" cy="650.2" r="6.4"/><circle cx="554.6" cy="636.0" r="6.4"/><circle cx="555.3" cy="644.9" r="6.4"/><circle cx="556.0" cy="640.4" r="6.4"/><circle cx="556.7" cy="650.0" r="6.4"/><circle cx="557.4" cy="638.2" r="6.4"/><circle cx="558.0" cy="647.4" r="6.4"/><circle cx="558.7" cy="642.7" r="6.4"/><circle cx="559.3" cy="652.2" r="6.4"/><circle cx="560.0" cy="633.2" r="6.4"/><circle cx="560.6" cy="643.1" r="6.4"/><circle cx="561.2" cy="638.3" r="6.4"/><circle cx="561.8" cy="648.1" r="6.4"/><circle cx="562.4" cy="634.6" r="6.4"/><circle cx="563.0" cy="645.7" r="6.4"/><circle cx="563.6" cy="640.6" r="6.4"/><circle cx="564.2" cy="650.9" r="6.4"/><circle cx="564.8" cy="633.9" r="6.4"/><circle cx="565.3" cy="644.6" r="6.4"/><circle cx="565.9" cy="639.0" r="6.4"/><circle cx="566.4" cy="650.8" r="6.4"/><circle cx="567.0" cy="636.1" r="6.4"/><circle cx="567.5" cy="647.7" r="6.4"/><circle cx="568.0" cy="641.7" r="6.4"/><circle cx="568.6" cy="653.5" r="6.4"/><circle cx="569.1" cy="633.2" r="6.4"/><circle cx="569.6" cy="643.9" r="6.4"/><circle cx="570.1" cy="638.1" r="6.4"/><circle cx="570.6" cy="649.7" r="6.4"/><circle cx="571.1" cy="636.0" r="6.4"/><circle cx="571.6" cy="647.0" r="6.4"/><circle cx="572.1" cy="641.0" r="6.4"/><circle cx="572.6" cy="652.6" r="6.4"/><circle cx="573.1" cy="633.7" r="6.4"/><circle cx="573.6" cy="645.4" r="6.4"/><circle cx="574.1" cy="639.4" r="6.4"/><circle cx="574.6" cy="650.9" r="6.4"/><circle cx="575.1" cy="636.8" r="6.4"/><circle cx="575.6" cy="648.5" r="6.4"/><circle cx="576.1" cy="642.4" r="6.4"/><circle cx="576.6" cy="654.3" r="6.4"/><circle cx="577.1" cy="631.8" r="6.4"/><circle cx="577.6" cy="643.5" r="6.4"/><circle cx="578.1" cy="637.5" r="6.4"/><circle cx="578.6" cy="650.0" r="6.4"/><circle cx="579.1" cy="634.9" r="6.4"/><circle cx="579.6" cy="646.9" r="6.4"/><circle cx="580.0" cy="640.4" r="6.4"/><circle cx="580.5" cy="652.6" r="6.4"/><circle cx="581.0" cy="632.4" r="6.4"/><circle cx="581.5" cy="645.0" r="6.4"/><circle cx="582.0" cy="639.3" r="6.4"/><circle cx="582.5" cy="650.8" r="6.4"/><circle cx="582.9" cy="636.0" r="6.4"/><circle cx="583.4" cy="648.2" r="6.4"/><circle cx="583.9" cy="642.0" r="6.4"/><circle cx="584.4" cy="654.6" r="6.4"/><circle cx="584.8" cy="633.0" r="6.4"/><circle cx="585.3" cy="644.4" r="6.4"/><circle cx="585.8" cy="638.4" r="6.4"/><circle cx="586.2" cy="650.4" r="6.4"/><circle cx="586.7" cy="635.1" r="6.4"/><circle cx="587.2" cy="647.3" r="6.4"/><circle cx="587.7" cy="641.3" r="6.4"/><circle cx="588.1" cy="653.4" r="6.4"/><circle cx="588.6" cy="633.2" r="6.4"/><circle cx="589.0" cy="646.1" r="6.4"/><circle cx="589.5" cy="639.5" r="6.4"/><circle cx="590.0" cy="652.0" r="6.4"/><circle cx="590.4" cy="636.6" r="6.4"/><circle cx="590.9" cy="649.0" r="6.4"/><circle cx="591.4" cy="642.8" r="6.4"/><circle cx="591.8" cy="654.5" r="6.4"/><circle cx="592.3" cy="629.3" r="6.4"/><circle cx="592.7" cy="643.1" r="6.4"/><circle cx="593.2" cy="636.8" r="6.4"/><circle cx="593.6" cy="649.8" r="6.4"/><circle cx="594.1" cy="632.7" r="6.4"/><circle cx="594.5" cy="646.5" r="6.4"/><circle cx="595.0" cy="639.6" r="6.4"/><circle cx="595.4" cy="653.1" r="6.4"/><circle cx="595.9" cy="630.7" r="6.4"/><circle cx="596.3" cy="644.9" r="6.4"/><circle cx="596.8" cy="638.1" r="6.4"/><circle cx="597.2" cy="652.2" r="6.4"/><circle cx="597.6" cy="634.6" r="6.4"/><circle cx="598.1" cy="648.2" r="6.4"/><circle cx="598.5" cy="641.5" r="6.4"/><circle cx="599.0" cy="654.9" r="6.4"/><circle cx="599.4" cy="629.7" r="6.4"/><circle cx="599.8" cy="643.9" r="6.4"/><circle cx="600.2" cy="636.9" r="6.4"/><circle cx="600.7" cy="651.1" r="6.4"/><circle cx="601.1" cy="633.4" r="6.4"/><circle cx="601.5" cy="647.0" r="6.4"/><circle cx="601.9" cy="640.5" r="6.4"/><circle cx="602.4" cy="654.9" r="6.4"/><circle cx="602.8" cy="632.1" r="6.4"/><circle cx="603.2" cy="645.8" r="6.4"/><circle cx="603.6" cy="639.2" r="6.4"/><circle cx="604.0" cy="653.2" r="6.4"/><circle cx="604.5" cy="635.3" r="6.4"/><circle cx="604.9" cy="649.7" r="6.4"/><circle cx="605.3" cy="642.3" r="6.4"/><circle cx="605.7" cy="657.1" r="6.4"/><circle cx="606.1" cy="629.2" r="6.4"/><circle cx="606.5" cy="643.6" r="6.4"/><circle cx="606.9" cy="636.6" r="6.4"/><circle cx="607.3" cy="650.6" r="6.4"/><circle cx="607.7" cy="631.4" r="6.4"/><circle cx="608.1" cy="647.1" r="6.4"/><circle cx="608.5" cy="640.0" r="6.4"/><circle cx="608.9" cy="654.5" r="6.4"/><circle cx="609.4" cy="631.2" r="6.4"/><circle cx="609.7" cy="645.6" r="6.4"/><circle cx="610.1" cy="637.6" r="6.4"/><circle cx="610.5" cy="652.6" r="6.4"/><circle cx="610.9" cy="635.0" r="6.4"/><circle cx="611.3" cy="649.6" r="6.4"/><circle cx="611.7" cy="641.6" r="6.4"/><circle cx="612.1" cy="657.4" r="6.4"/><circle cx="612.5" cy="628.6" r="6.4"/><circle cx="612.9" cy="644.5" r="6.4"/><circle cx="613.3" cy="637.0" r="6.4"/><circle cx="613.7" cy="651.6" r="6.4"/><circle cx="614.1" cy="633.7" r="6.4"/><circle cx="614.5" cy="648.7" r="6.4"/><circle cx="614.8" cy="640.8" r="6.4"/><circle cx="615.2" cy="657.7" r="6.4"/><circle cx="615.6" cy="630.9" r="6.4"/><circle cx="616.0" cy="646.4" r="6.4"/><circle cx="616.4" cy="638.6" r="6.4"/><circle cx="616.7" cy="655.4" r="6.4"/><circle cx="617.1" cy="634.6" r="6.4"/><circle cx="617.5" cy="650.1" r="6.4"/><circle cx="617.9" cy="642.6" r="6.4"/><circle cx="618.3" cy="659.6" r="6.4"/><circle cx="618.6" cy="627.8" r="6.4"/><circle cx="619.0" cy="643.4" r="6.4"/><circle cx="619.4" cy="635.0" r="6.4"/><circle cx="619.7" cy="651.5" r="6.4"/><circle cx="620.1" cy="631.9" r="6.4"/><circle cx="620.5" cy="647.3" r="6.4"/><circle cx="620.8" cy="639.5" r="6.4"/><circle cx="621.2" cy="655.8" r="6.4"/><circle cx="621.6" cy="629.0" r="6.4"/><circle cx="621.9" cy="645.6" r="6.4"/><circle cx="622.3" cy="637.0" r="6.4"/><circle cx="622.6" cy="652.9" r="6.4"/><circle cx="623.0" cy="632.8" r="6.4"/><circle cx="623.4" cy="649.9" r="6.4"/><circle cx="623.7" cy="641.3" r="6.4"/><circle cx="624.1" cy="658.8" r="6.4"/><circle cx="624.4" cy="628.1" r="6.4"/><circle cx="624.8" cy="644.4" r="6.4"/><circle cx="625.1" cy="635.7" r="6.4"/><circle cx="625.5" cy="652.4" r="6.4"/><circle cx="625.8" cy="632.9" r="6.4"/><circle cx="626.2" cy="649.0" r="6.4"/><circle cx="626.5" cy="640.3" r="6.4"/><circle cx="626.9" cy="657.1" r="6.4"/><circle cx="627.2" cy="630.4" r="6.4"/><circle cx="627.6" cy="646.4" r="6.4"/><circle cx="627.9" cy="638.3" r="6.4"/><circle cx="628.2" cy="655.1" r="6.4"/><circle cx="628.6" cy="633.4" r="6.4"/><circle cx="628.9" cy="650.1" r="6.4"/><circle cx="629.3" cy="642.3" r="6.4"/><circle cx="629.6" cy="658.9" r="6.4"/><circle cx="629.9" cy="627.3" r="6.4"/><circle cx="630.3" cy="644.0" r="6.4"/><circle cx="630.6" cy="635.2" r="6.4"/><circle cx="630.9" cy="652.1" r="6.4"/><circle cx="631.3" cy="629.5" r="6.4"/><circle cx="631.6" cy="648.2" r="6.4"/><circle cx="631.9" cy="639.5" r="6.4"/><circle cx="632.3" cy="657.5" r="6.4"/><circle cx="632.6" cy="627.2" r="6.4"/><circle cx="632.9" cy="646.2" r="6.4"/><circle cx="633.3" cy="636.9" r="6.4"/><circle cx="633.6" cy="654.8" r="6.4"/><circle cx="633.9" cy="632.1" r="6.4"/><circle cx="634.2" cy="650.5" r="6.4"/><circle cx="634.6" cy="641.7" r="6.4"/><circle cx="634.9" cy="661.6" r="6.4"/><circle cx="635.2" cy="626.6" r="6.4"/><circle cx="635.5" cy="645.2" r="6.4"/><circle cx="635.8" cy="635.2" r="6.4"/><circle cx="636.2" cy="654.6" r="6.4"/><circle cx="636.5" cy="631.8" r="6.4"/><circle cx="636.8" cy="650.0" r="6.4"/><circle cx="637.1" cy="640.7" r="6.4"/><circle cx="637.4" cy="660.0" r="6.4"/><circle cx="637.8" cy="628.0" r="6.4"/><circle cx="638.1" cy="647.4" r="6.4"/><circle cx="638.4" cy="638.3" r="6.4"/><circle cx="638.7" cy="657.0" r="6.4"/><circle cx="639.0" cy="633.5" r="6.4"/><circle cx="639.3" cy="651.8" r="6.4"/><circle cx="639.6" cy="642.8" r="6.4"/><circle cx="639.9" cy="659.8" r="6.4"/><circle cx="640.3" cy="624.5" r="6.4"/><circle cx="640.6" cy="643.1" r="6.4"/><circle cx="640.9" cy="633.7" r="6.4"/><circle cx="641.2" cy="652.7" r="6.4"/><circle cx="641.5" cy="629.6" r="6.4"/><circle cx="641.8" cy="648.0" r="6.4"/><circle cx="642.1" cy="638.3" r="6.4"/><circle cx="642.4" cy="657.0" r="6.4"/><circle cx="642.7" cy="627.4" r="6.4"/><circle cx="643.0" cy="645.3" r="6.4"/><circle cx="643.3" cy="635.7" r="6.4"/><circle cx="643.6" cy="654.6" r="6.4"/><circle cx="643.9" cy="631.0" r="6.4"/><circle cx="644.2" cy="650.7" r="6.4"/><circle cx="644.5" cy="640.5" r="6.4"/><circle cx="644.8" cy="661.4" r="6.4"/><circle cx="645.1" cy="625.1" r="6.4"/><circle cx="645.4" cy="644.2" r="6.4"/><circle cx="645.7" cy="634.1" r="6.4"/><circle cx="646.0" cy="654.3" r="6.4"/><circle cx="646.3" cy="628.8" r="6.4"/><circle cx="646.6" cy="649.2" r="6.4"/><circle cx="646.9" cy="639.2" r="6.4"/><circle cx="647.2" cy="659.8" r="6.4"/><circle cx="647.5" cy="626.5" r="6.4"/><circle cx="647.8" cy="646.9" r="6.4"/><circle cx="648.1" cy="636.8" r="6.4"/><circle cx="648.4" cy="656.8" r="6.4"/><circle cx="648.7" cy="631.8" r="6.4"/><circle cx="654.4" cy="653.2" r="6.4"/><circle cx="654.4" cy="641.6" r="6.4"/><circle cx="654.4" cy="664.8" r="6.4"/><circle cx="654.4" cy="620.6" r="6.4"/><circle cx="654.4" cy="643.8" r="6.4"/><circle cx="654.4" cy="632.2" r="6.4"/><circle cx="654.4" cy="655.4" r="6.4"/><circle cx="654.4" cy="626.4" r="6.4"/><circle cx="654.4" cy="649.6" r="6.4"/><circle cx="654.4" cy="638.0" r="6.4"/><circle cx="654.4" cy="661.2" r="6.4"/><circle cx="654.4" cy="623.5" r="6.4"/><circle cx="654.4" cy="646.7" r="6.4"/><circle cx="654.4" cy="635.1" r="6.4"/><circle cx="654.4" cy="658.3" r="6.4"/><circle cx="654.4" cy="629.3" r="6.4"/><circle cx="654.4" cy="652.5" r="6.4"/><circle cx="654.4" cy="640.9" r="6.4"/><circle cx="654.4" cy="664.1" r="6.4"/><circle cx="654.4" cy="622.1" r="6.4"/><circle cx="654.4" cy="645.3" r="6.4"/><circle cx="654.4" cy="633.7" r="6.4"/><circle cx="654.4" cy="656.9" r="6.4"/><circle cx="654.4" cy="627.9" r="6.4"/><circle cx="654.4" cy="651.1" r="6.4"/><circle cx="654.4" cy="639.5" r="6.4"/><circle cx="654.4" cy="662.7" r="6.4"/><circle cx="654.4" cy="625.0" r="6.4"/><circle cx="654.4" cy="648.2" r="6.4"/><circle cx="654.4" cy="636.6" r="6.4"/><circle cx="654.4" cy="659.8" r="6.4"/><circle cx="654.4" cy="630.8" r="6.4"/><circle cx="654.4" cy="654.0" r="6.4"/><circle cx="654.4" cy="642.4" r="6.4"/><circle cx="654.4" cy="665.6" r="6.4"/><circle cx="654.4" cy="620.3" r="6.4"/><circle cx="654.4" cy="643.5" r="6.4"/><circle cx="654.4" cy="631.9" r="6.4"/><circle cx="654.4" cy="655.1" r="6.4"/><circle cx="654.4" cy="626.1" r="6.4"/><circle cx="654.4" cy="649.3" r="6.4"/><circle cx="654.4" cy="637.7" r="6.4"/><circle cx="654.4" cy="660.9" r="6.4"/><circle cx="654.4" cy="623.2" r="6.4"/><circle cx="654.4" cy="646.4" r="6.4"/><circle cx="654.4" cy="634.8" r="6.4"/><circle cx="654.4" cy="658.0" r="6.4"/><circle cx="654.4" cy="629.0" r="6.4"/><circle cx="654.4" cy="652.2" r="6.4"/><circle cx="654.4" cy="640.6" r="6.4"/><circle cx="654.4" cy="663.8" r="6.4"/><circle cx="654.4" cy="621.7" r="6.4"/><circle cx="654.4" cy="644.9" r="6.4"/><circle cx="654.4" cy="633.3" r="6.4"/><circle cx="654.4" cy="656.5" r="6.4"/><circle cx="654.4" cy="627.5" r="6.4"/><circle cx="654.4" cy="650.7" r="6.4"/><circle cx="654.4" cy="639.1" r="6.4"/><circle cx="654.4" cy="662.3" r="6.4"/><circle cx="654.4" cy="624.6" r="6.4"/><circle cx="654.4" cy="647.8" r="6.4"/><circle cx="654.4" cy="636.2" r="6.4"/><circle cx="654.4" cy="659.4" r="6.4"/><circle cx="654.4" cy="630.4" r="6.4"/><circle cx="654.4" cy="653.6" r="6.4"/><circle cx="654.4" cy="642.0" r="6.4"/><circle cx="654.4" cy="665.2" r="6.4"/><circle cx="654.4" cy="621.0" r="6.4"/><circle cx="654.4" cy="644.2" r="6.4"/><circle cx="654.4" cy="632.6" r="6.4"/><circle cx="654.4" cy="655.8" r="6.4"/><circle cx="654.4" cy="626.8" r="6.4"/><circle cx="654.4" cy="650.0" r="6.4"/><circle cx="654.4" cy="638.4" r="6.4"/><circle cx="654.4" cy="661.6" r="6.4"/><circle cx="654.4" cy="623.9" r="6.4"/><circle cx="654.4" cy="647.1" r="6.4"/><circle cx="654.4" cy="635.5" r="6.4"/><circle cx="654.4" cy="658.7" r="6.4"/><circle cx="654.4" cy="629.7" r="6.4"/><circle cx="654.4" cy="652.9" r="6.4"/><circle cx="654.4" cy="641.3" r="6.4"/><circle cx="654.4" cy="664.5" r="6.4"/><circle cx="654.4" cy="622.4" r="6.4"/><circle cx="654.4" cy="645.6" r="6.4"/><circle cx="654.4" cy="634.0" r="6.4"/><circle cx="654.4" cy="657.2" r="6.4"/><circle cx="654.4" cy="628.2" r="6.4"/><circle cx="654.4" cy="651.4" r="6.4"/><circle cx="654.4" cy="639.8" r="6.4"/></g>
<g stroke="#000" stroke-width="3.1" fill="#000"><path d="M502.4 57.3H621.9"/><circle cx="562.3" cy="57.3" r="9.65" stroke="none"/><path d="M475.2 115.7H631.6"/><circle cx="553.1" cy="115.7" r="9.65" stroke="none"/><path d="M376.9 173.9H551.4"/><circle cx="464.5" cy="173.9" r="9.65" stroke="none"/><path d="M403.6 342.0H585.1"/><circle cx="494.2" cy="342.0" r="9.65" stroke="none"/><path d="M563.7 402.2H643.1"/><circle cx="603.4" cy="402.2" r="9.65" stroke="none"/><path d="M527.0 462.5H659.8"/><circle cx="593.5" cy="462.5" r="9.65" stroke="none"/><path d="M519.2 522.8H651.7"/><circle cx="585.5" cy="522.8" r="9.65" stroke="none"/><path d="M479.7 583.0H628.9"/><circle cx="554.4" cy="583.0" r="9.65" stroke="none"/><path d="M546.3 643.0H649.0"/><circle cx="597.6" cy="643.0" r="9.65" stroke="none"/></g>
<g stroke="#000" stroke-width="2.1" fill="none">
<path d="M134.3 22.2V209H685"/>
<path d="M134.3 306V679H685"/>
</g>
<g stroke="#333" stroke-width="2.1">
<path d="M129.3 57.3H134M129.3 115.6H134M129.3 173.8H134"/>
<path d="M199.1 209V214.4M352.8 209V214.4M506.4 209V214.4M659.8 209V214.4"/>
<path d="M129.3 341.9H134M129.3 402.2H134M129.3 462.5H134M129.3 522.8H134M129.3 583.1H134M129.3 643.4H134"/>
<path d="M199.0 679V684.6M350.8 679V684.6M502.6 679V684.6M654.4 679V684.6"/>
</g>
<text class="pl" transform="translate(0,20.0) scale(1,1.041)">A</text>
<text class="pl" transform="translate(0,302.6) scale(1,1.041)">B</text>
<g class="tl" text-anchor="end">
<text transform="translate(124.8,63.9) scale(1,1.041)">BRA [AFR]</text>
<text transform="translate(124.8,122.2) scale(1,1.041)">BRA [EUR]</text>
<text transform="translate(124.8,180.4) scale(1,1.041)">BRA [IND]</text>
<text transform="translate(124.8,348.5) scale(1,1.041)">BRA [ALL]</text>
<text transform="translate(124.8,408.8) scale(1,1.041)">AFR</text>
<text transform="translate(124.8,469.1) scale(1,1.041)">EUR</text>
<text transform="translate(124.8,529.4) scale(1,1.041)">EAS</text>
<text transform="translate(124.8,589.7) scale(1,1.041)">SAS</text>
<text transform="translate(124.8,650.0) scale(1,1.041)">AMR</text>
</g>
<g class="tl" text-anchor="middle">
<text transform="translate(199.1,231.0) scale(1,1.041)">0.7</text>
<text transform="translate(352.8,231.0) scale(1,1.041)">0.8</text>
<text transform="translate(506.4,231.0) scale(1,1.041)">0.9</text>
<text transform="translate(659.8,231.0) scale(1,1.041)">1.0</text>
<text transform="translate(199.0,701.0) scale(1,1.041)">0.7</text>
<text transform="translate(350.8,701.0) scale(1,1.041)">0.8</text>
<text transform="translate(502.6,701.0) scale(1,1.041)">0.9</text>
<text transform="translate(654.4,701.0) scale(1,1.041)">1.0</text>
</g>
<g class="tt" text-anchor="middle">
<text transform="translate(409.8,254.4) scale(1,1.041)">Haplogroup Prediction Confidence</text>
<text transform="translate(409.8,724.7) scale(1,1.041)">Haplogroup Prediction Confidence</text>
<text style="font-size:21.4px" transform="translate(34.0,115.6) rotate(-90) scale(1,1.041)">Geographic Groups</text>
<text style="font-size:21.4px" transform="translate(34.0,492.9) rotate(-90) scale(1,1.041)">Geographic Groups</text>
</g>
</svg>
</body></html>
